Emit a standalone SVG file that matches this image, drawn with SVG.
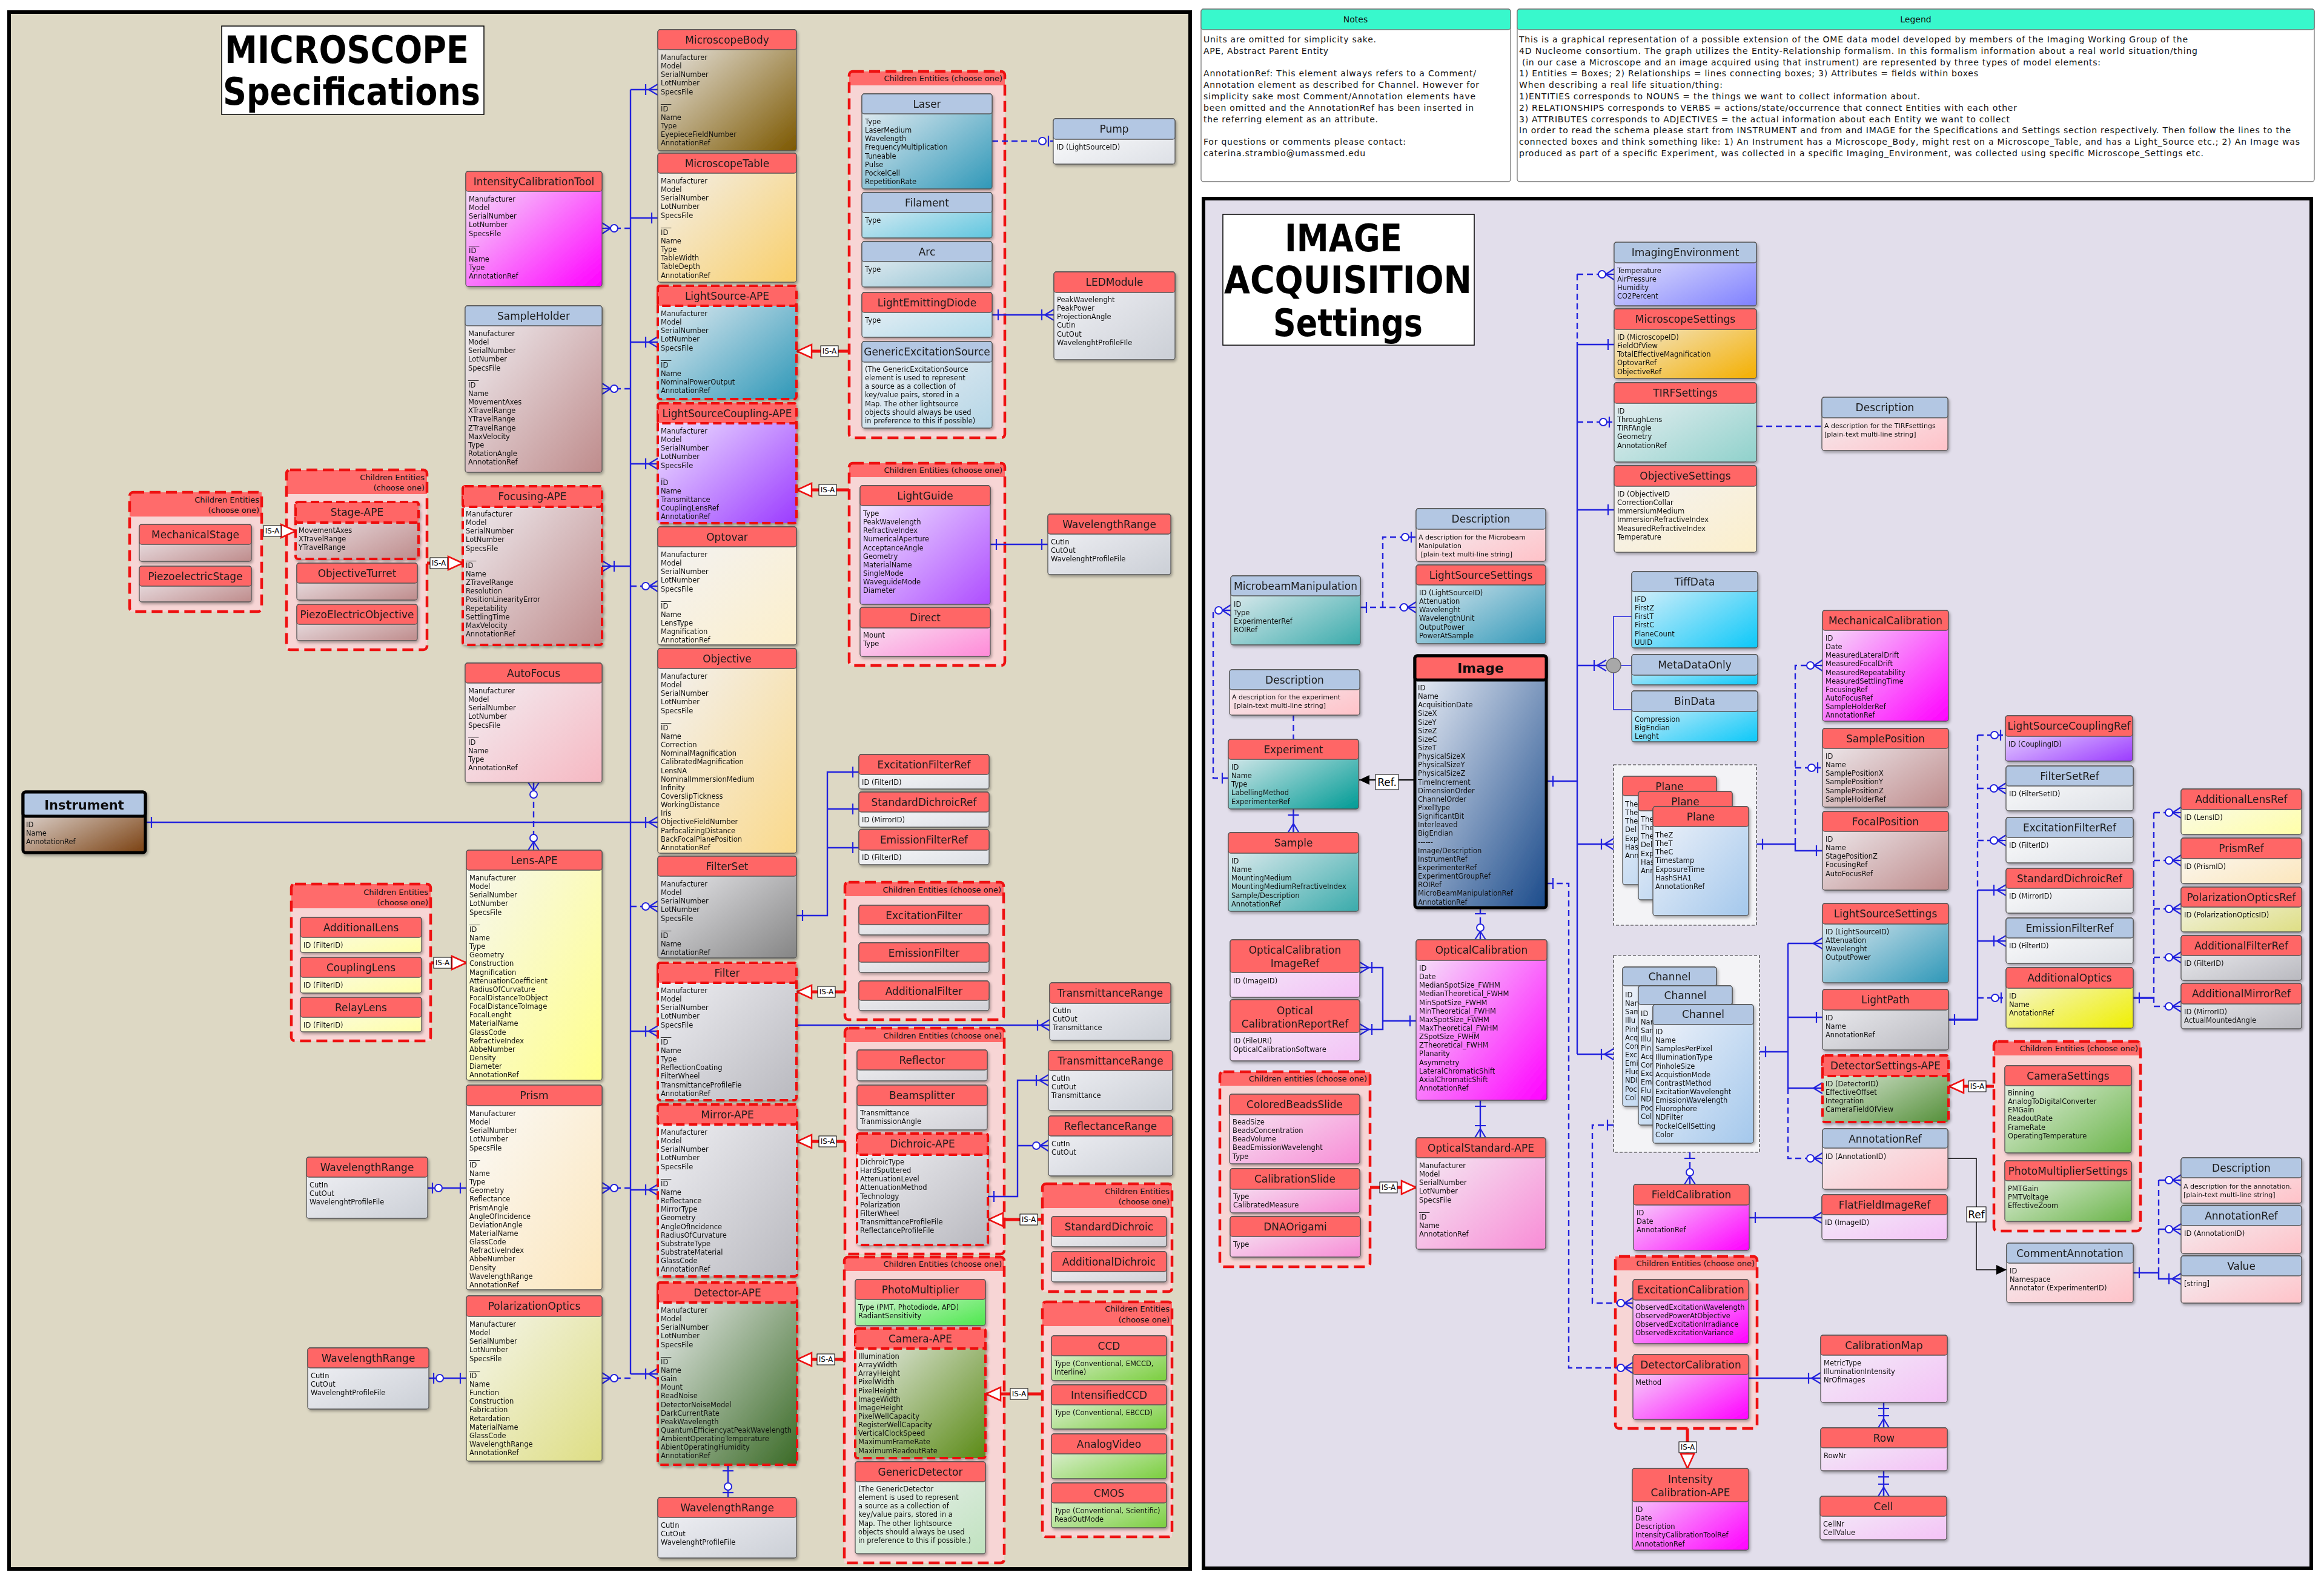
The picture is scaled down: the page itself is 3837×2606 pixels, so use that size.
<svg xmlns="http://www.w3.org/2000/svg" width="3837" height="2606" viewBox="0 0 3837 2606">
<defs>
<style>
.bd{stroke:#555;stroke-width:1.3;rx:4px}
.hr{fill:#FF6666;stroke:#555;stroke-width:1.3;rx:4px}
.hb{fill:#B3C7E3;stroke:#555;stroke-width:1.3;rx:4px}
.ap{stroke:#EE1111;stroke-width:4;stroke-dasharray:14 7}
.tk{stroke:#000;stroke-width:5}
.t{font:17px "DejaVu Sans",sans-serif;text-anchor:middle;fill:#1a1a1a}
.tb{font:bold 21px "DejaVu Sans",sans-serif;text-anchor:middle;fill:#111}
.a{font:11.5px "DejaVu Sans",sans-serif;fill:#111}
.s{font:11px "DejaVu Sans",sans-serif;fill:#111}
.gf{fill:#F7D5D5}
.band{fill:#FF6B6B}
.gb{fill:none;stroke:#EE1111;stroke-width:4.5;stroke-dasharray:18 9;rx:6px}
.gl{font:13px "DejaVu Sans",sans-serif;text-anchor:end;fill:#111}
.dg{fill:#F3F3F6;stroke:#333;stroke-width:1.2;stroke-dasharray:5 3}
.n{filter:url(#sh)}
.c{fill:none;stroke:#2222DD;stroke-width:2.4}
.d{stroke-dasharray:10 6}
.r{fill:none;stroke:#EE1111;stroke-width:5}
.k{fill:none;stroke:#000;stroke-width:1.4}
.lb{fill:#fff;stroke:#000;stroke-width:1}
.lt{font:12px "DejaVu Sans",sans-serif;text-anchor:middle;fill:#000}
.nt{font:14px "DejaVu Sans",sans-serif;fill:#111}
.big{font:bold 62px "DejaVu Sans Condensed","DejaVu Sans",sans-serif;fill:#000}
</style>
<filter id="sh" x="-10%" y="-10%" width="125%" height="125%"><feDropShadow dx="2" dy="3" stdDeviation="2" flood-color="#000" flood-opacity="0.3"/></filter>
<linearGradient id="gBrown" x2="1" y2="1"><stop offset="0" stop-color="#F2F2F6"/><stop offset="1" stop-color="#7C5800"/></linearGradient>
<linearGradient id="gOrange" x2="1" y2="1"><stop offset="0" stop-color="#F2F2F6"/><stop offset="1" stop-color="#F9CF6A"/></linearGradient>
<linearGradient id="gTeal" x2="1" y2="1"><stop offset="0" stop-color="#F2F2F6"/><stop offset="1" stop-color="#2F98B8"/></linearGradient>
<linearGradient id="gPurple" x2="1" y2="1"><stop offset="0" stop-color="#F6F2FF"/><stop offset="1" stop-color="#9B3BFF"/></linearGradient>
<linearGradient id="gCream" x2="1" y2="1"><stop offset="0" stop-color="#F2F2F6"/><stop offset="1" stop-color="#FCEFCB"/></linearGradient>
<linearGradient id="gObj" x2="1" y2="1"><stop offset="0" stop-color="#F2F2F6"/><stop offset="1" stop-color="#FAD98B"/></linearGradient>
<linearGradient id="gGray" x2="1" y2="1"><stop offset="0" stop-color="#F2F2F6"/><stop offset="1" stop-color="#858585"/></linearGradient>
<linearGradient id="gLGray" x2="1" y2="1"><stop offset="0" stop-color="#F2F2F6"/><stop offset="1" stop-color="#B9B9BF"/></linearGradient>
<linearGradient id="gGreen" x2="1" y2="1"><stop offset="0" stop-color="#F2F2F6"/><stop offset="1" stop-color="#3B6B27"/></linearGradient>
<linearGradient id="gWR" x2="1" y2="1"><stop offset="0" stop-color="#F4F4F8"/><stop offset="1" stop-color="#CBCFD6"/></linearGradient>
<linearGradient id="gMag" x2="1" y2="1"><stop offset="0" stop-color="#F4F0F8"/><stop offset="1" stop-color="#FF00FF"/></linearGradient>
<linearGradient id="gRosy" x2="1" y2="1"><stop offset="0" stop-color="#F2F2F6"/><stop offset="1" stop-color="#BF8C8C"/></linearGradient>
<linearGradient id="gPink" x2="1" y2="1"><stop offset="0" stop-color="#F2F2F6"/><stop offset="1" stop-color="#F6B8C2"/></linearGradient>
<linearGradient id="gYellow" x2="1" y2="1"><stop offset="0" stop-color="#F6F6F2"/><stop offset="1" stop-color="#FFFF8C"/></linearGradient>
<linearGradient id="gYelL" x2="1" y2="1"><stop offset="0" stop-color="#F8F8F4"/><stop offset="1" stop-color="#FFFFA8"/></linearGradient>
<linearGradient id="gPrism" x2="1" y2="1"><stop offset="0" stop-color="#FAFAFA"/><stop offset="1" stop-color="#FCE6BC"/></linearGradient>
<linearGradient id="gPol" x2="1" y2="1"><stop offset="0" stop-color="#F6F6F2"/><stop offset="1" stop-color="#DEDE84"/></linearGradient>
<linearGradient id="gCyan" x2="1" y2="1"><stop offset="0" stop-color="#F2F2F6"/><stop offset="1" stop-color="#5FC6DF"/></linearGradient>
<linearGradient id="gArc" x2="1" y2="1"><stop offset="0" stop-color="#F2F2F6"/><stop offset="1" stop-color="#8FC3D3"/></linearGradient>
<linearGradient id="gLED" x2="1" y2="1"><stop offset="0" stop-color="#F2F2F6"/><stop offset="1" stop-color="#B0DBEA"/></linearGradient>
<linearGradient id="gGES" x2="1" y2="1"><stop offset="0" stop-color="#F2F2F6"/><stop offset="1" stop-color="#B5D6E6"/></linearGradient>
<linearGradient id="gPurple2" x2="1" y2="1"><stop offset="0" stop-color="#F6F2FF"/><stop offset="1" stop-color="#AE4DFF"/></linearGradient>
<linearGradient id="gPinkD" x2="1" y2="1"><stop offset="0" stop-color="#F6F2F6"/><stop offset="1" stop-color="#FF8AD8"/></linearGradient>
<linearGradient id="gW" x2="1" y2="1"><stop offset="0" stop-color="#FFFFFF"/><stop offset="1" stop-color="#DDE0E6"/></linearGradient>
<linearGradient id="gLG2" x2="1" y2="1"><stop offset="0" stop-color="#F6F6F8"/><stop offset="1" stop-color="#D0D0D6"/></linearGradient>
<linearGradient id="gPM" x2="1" y2="1"><stop offset="0" stop-color="#F2F6F2"/><stop offset="1" stop-color="#4DE84D"/></linearGradient>
<linearGradient id="gCam" x2="1" y2="1"><stop offset="0" stop-color="#F2F2F6"/><stop offset="1" stop-color="#5B8B16"/></linearGradient>
<linearGradient id="gGD" x2="1" y2="1"><stop offset="0" stop-color="#F2F2F6"/><stop offset="1" stop-color="#C0E2BF"/></linearGradient>
<linearGradient id="gCCD" x2="1" y2="1"><stop offset="0" stop-color="#F2F6F2"/><stop offset="1" stop-color="#7ACE3E"/></linearGradient>
<linearGradient id="gPeri" x2="1" y2="1"><stop offset="0" stop-color="#F2F2FA"/><stop offset="1" stop-color="#7F80FF"/></linearGradient>
<linearGradient id="gMS" x2="1" y2="1"><stop offset="0" stop-color="#F2F2F6"/><stop offset="1" stop-color="#F4AF00"/></linearGradient>
<linearGradient id="gTirf" x2="1" y2="1"><stop offset="0" stop-color="#F2F2F6"/><stop offset="1" stop-color="#8FD1CB"/></linearGradient>
<linearGradient id="gDesc" x2="1" y2="1"><stop offset="0" stop-color="#F2F2F6"/><stop offset="1" stop-color="#FFC2C8"/></linearGradient>
<linearGradient id="gTealD" x2="1" y2="1"><stop offset="0" stop-color="#F2F2F6"/><stop offset="1" stop-color="#009B95"/></linearGradient>
<linearGradient id="gTealM" x2="1" y2="1"><stop offset="0" stop-color="#F2F2F6"/><stop offset="1" stop-color="#3AABAB"/></linearGradient>
<linearGradient id="gImg" x2="1" y2="1"><stop offset="0" stop-color="#F2F4FA"/><stop offset="1" stop-color="#1B4B8B"/></linearGradient>
<linearGradient id="gCyanB" x2="1" y2="1"><stop offset="0" stop-color="#F2F4FA"/><stop offset="1" stop-color="#0CC8F8"/></linearGradient>
<linearGradient id="gPlane" x2="1" y2="1"><stop offset="0" stop-color="#F2F4FA"/><stop offset="1" stop-color="#A4C8EC"/></linearGradient>
<linearGradient id="gLil" x2="1" y2="1"><stop offset="0" stop-color="#F2F2F8"/><stop offset="1" stop-color="#F4C2F6"/></linearGradient>
<linearGradient id="gPinkM" x2="1" y2="1"><stop offset="0" stop-color="#F4F2F6"/><stop offset="1" stop-color="#F88CD6"/></linearGradient>
<linearGradient id="gYel2" x2="1" y2="1"><stop offset="0" stop-color="#F6F6F2"/><stop offset="1" stop-color="#EFEF00"/></linearGradient>
<linearGradient id="gCS" x2="1" y2="1"><stop offset="0" stop-color="#F2F6F2"/><stop offset="1" stop-color="#6BB54A"/></linearGradient>
<linearGradient id="gDS" x2="1" y2="1"><stop offset="0" stop-color="#F2F6F2"/><stop offset="1" stop-color="#55903A"/></linearGradient>
<linearGradient id="gInst" x2="1" y2="1"><stop offset="0" stop-color="#F2F2F6"/><stop offset="1" stop-color="#7A4010"/></linearGradient>
<marker id="m1" markerUnits="userSpaceOnUse" orient="auto-start-reverse" overflow="visible" markerWidth="1" markerHeight="1"><path d="M-10,-9V9" stroke="#2222DD" stroke-width="2.2" fill="none"/></marker>
<marker id="mcf" markerUnits="userSpaceOnUse" orient="auto-start-reverse" overflow="visible" markerWidth="1" markerHeight="1"><path d="M-15,0L0,-9M-15,0L0,9M-15,0H0M-20,-9V9" stroke="#2222DD" stroke-width="2.2" fill="none"/></marker>
<marker id="mcfo" markerUnits="userSpaceOnUse" orient="auto-start-reverse" overflow="visible" markerWidth="1" markerHeight="1"><path d="M-15,0L0,-9M-15,0L0,9M-15,0H0" stroke="#2222DD" stroke-width="2.2" fill="none"/></marker>
<marker id="mcfz" markerUnits="userSpaceOnUse" orient="auto-start-reverse" overflow="visible" markerWidth="1" markerHeight="1"><path d="M-14,0L0,-9M-14,0L0,9M-14,0H0" stroke="#2222DD" stroke-width="2.2" fill="none"/><circle cx="-20" cy="0" r="6" fill="#fff" stroke="#2222DD" stroke-width="2"/></marker>
<marker id="mz1" markerUnits="userSpaceOnUse" orient="auto-start-reverse" overflow="visible" markerWidth="1" markerHeight="1"><path d="M-8,-9V9" stroke="#2222DD" stroke-width="2.2" fill="none"/><circle cx="-18" cy="0" r="6" fill="#fff" stroke="#2222DD" stroke-width="2"/></marker>
<marker id="misa" markerUnits="userSpaceOnUse" orient="auto-start-reverse" overflow="visible" markerWidth="1" markerHeight="1"><path d="M0,0L-24,-11L-24,11Z" fill="#fff" stroke="#EE1111" stroke-width="2.5"/></marker>
<marker id="mref" markerUnits="userSpaceOnUse" orient="auto-start-reverse" overflow="visible" markerWidth="1" markerHeight="1"><path d="M0,0L-17,-8L-17,8Z" fill="#000"/></marker>
</defs>
<rect width="3837" height="2606" fill="#fff"/>
<g id="panels">
<rect x="15" y="20" width="1950" height="2571" fill="#DDD8C4" stroke="#000" stroke-width="6"/>
<rect x="1987" y="328" width="1829" height="2262" fill="#E2DEEB" stroke="#000" stroke-width="6"/>
<rect x="366" y="43" width="433" height="146" fill="#fff" stroke="#000" stroke-width="1.5"/>
<text class="big" x="371" y="104" textLength="403" lengthAdjust="spacingAndGlyphs">MICROSCOPE</text>
<text class="big" x="368" y="173" textLength="425" lengthAdjust="spacingAndGlyphs">Specifications</text>
<rect x="2019" y="354" width="415" height="216" fill="#fff" stroke="#000" stroke-width="1.5"/>
<text class="big" x="2121" y="415" textLength="194" lengthAdjust="spacingAndGlyphs">IMAGE</text>
<text class="big" x="2021" y="484" textLength="409" lengthAdjust="spacingAndGlyphs">ACQUISITION</text>
<text class="big" x="2102" y="555" textLength="247" lengthAdjust="spacingAndGlyphs">Settings</text>
</g>
<g id="notes">
<rect x="1983" y="15" width="511" height="285" rx="4" fill="#fff" stroke="#777" stroke-width="1.3"/>
<rect x="1983" y="15" width="511" height="34" rx="4" fill="#38F8CC" stroke="#777" stroke-width="1.3"/>
<text class="nt" x="2238" y="37" text-anchor="middle">Notes</text>
<text class="nt" x="1987" y="70" textLength="285">Units are omitted for simplicity sake.</text>
<text class="nt" x="1987" y="89" textLength="206">APE, Abstract Parent Entity</text>
<text class="nt" x="1987" y="126" textLength="450">AnnotationRef: This element always refers to a Comment/</text>
<text class="nt" x="1987" y="145" textLength="455">Annotation element as described for Channel. However for</text>
<text class="nt" x="1987" y="164" textLength="449">simplicity sake most Comment/Annotation elements have</text>
<text class="nt" x="1987" y="183" textLength="446">been omitted and the AnnotationRef has been inserted in</text>
<text class="nt" x="1987" y="202" textLength="288">the referring element as an attribute.</text>
<text class="nt" x="1987" y="239" textLength="334">For questions or comments please contact:</text>
<text class="nt" x="1987" y="258" textLength="267">caterina.strambio@umassmed.edu</text>
</g>
<g id="legend">
<rect x="2505" y="15" width="1316" height="285" rx="4" fill="#fff" stroke="#777" stroke-width="1.3"/>
<rect x="2505" y="15" width="1316" height="34" rx="4" fill="#38F8CC" stroke="#777" stroke-width="1.3"/>
<text class="nt" x="3163" y="37" text-anchor="middle">Legend</text>
<text class="nt" x="2508" y="70" textLength="1104">This is a graphical representation of a possible extension of the OME data model developed by members of the Imaging Working Group of the</text>
<text class="nt" x="2508" y="89" textLength="1120">4D Nucleome consortium. The graph utilizes the Entity-Relationship formalism. In this formalism information about a real world situation/thing</text>
<text class="nt" x="2513" y="108" textLength="955">(in our case a Microscope and an image acquired using that instrument) are represented by three types of model elements:</text>
<text class="nt" x="2508" y="126" textLength="758">1) Entities = Boxes; 2) Relationships = lines connecting boxes; 3) Attributes = fields within boxes</text>
<text class="nt" x="2508" y="145" textLength="336">When describing  a real life situation/thing:</text>
<text class="nt" x="2508" y="164" textLength="662">1)ENTITIES corresponds to NOUNS = the things we want to collect information about.</text>
<text class="nt" x="2508" y="183" textLength="822">2) RELATIONSHIPS corresponds to VERBS = actions/state/occurrence that connect Entities with each other</text>
<text class="nt" x="2508" y="202" textLength="810">3) ATTRIBUTES corresponds to ADJECTIVES = the actual information about each Entity we want to collect</text>
<text class="nt" x="2508" y="220" textLength="1274">In order to read the schema please start from INSTRUMENT and from and IMAGE for the Specifications and Settings section respectively. Then follow the lines to the</text>
<text class="nt" x="2508" y="239" textLength="1289">connected boxes and think something like: 1) An Instrument has a Microscope_Body, might rest on a Microscope_Table, and has a Light_Source etc.; 2) An Image was</text>
<text class="nt" x="2508" y="258" textLength="1130">produced as part of a specific Experiment, was collected in a specific Imaging_Environment, was collected using specific Microscope_Settings etc.</text>
</g>
<g id="containers">
<g id="grp-mechstage"><rect class="gf" x="214" y="813" width="218" height="197"/><rect class="band" x="214" y="813" width="218" height="40"/><rect class="gb" x="214" y="813" width="218" height="197"/><text class="gl" x="428" y="830">Children Entities</text><text class="gl" x="428" y="847">(choose one)</text></g>
<g id="grp-stage"><rect class="gf" x="473" y="776" width="232" height="297"/><rect class="band" x="473" y="776" width="232" height="40"/><rect class="gb" x="473" y="776" width="232" height="297"/><text class="gl" x="701" y="793">Children Entities</text><text class="gl" x="701" y="810">(choose one)</text></g>
<g id="grp-lens"><rect class="gf" x="481" y="1460" width="230" height="259"/><rect class="band" x="481" y="1460" width="230" height="40"/><rect class="gb" x="481" y="1460" width="230" height="259"/><text class="gl" x="707" y="1478">Children Entities</text><text class="gl" x="707" y="1495">(choose one)</text></g>
<g id="grp-lightsource"><rect class="gf" x="1402" y="118" width="257" height="605"/><rect class="band" x="1402" y="118" width="257" height="23"/><rect class="gb" x="1402" y="118" width="257" height="605"/><text class="gl" x="1655" y="134">Children Entities (choose one)</text></g>
<g id="grp-lightguide"><rect class="gf" x="1402" y="765" width="257" height="334"/><rect class="band" x="1402" y="765" width="257" height="23"/><rect class="gb" x="1402" y="765" width="257" height="334"/><text class="gl" x="1655" y="781">Children Entities (choose one)</text></g>
<g id="grp-filter"><rect class="gf" x="1395" y="1457" width="262" height="227"/><rect class="band" x="1395" y="1457" width="262" height="23"/><rect class="gb" x="1395" y="1457" width="262" height="227"/><text class="gl" x="1653" y="1474">Children Entities (choose one)</text></g>
<g id="grp-mirror"><rect class="gf" x="1395" y="1698" width="263" height="373"/><rect class="band" x="1395" y="1698" width="263" height="23"/><rect class="gb" x="1395" y="1698" width="263" height="373"/><text class="gl" x="1654" y="1715">Children Entities (choose one)</text></g>
<g id="grp-dichroic"><rect class="gf" x="1721" y="1955" width="214" height="178"/><rect class="band" x="1721" y="1955" width="214" height="40"/><rect class="gb" x="1721" y="1955" width="214" height="178"/><text class="gl" x="1931" y="1972">Children Entities</text><text class="gl" x="1931" y="1989">(choose one)</text></g>
<g id="grp-detector"><rect class="gf" x="1394" y="2076" width="264" height="505"/><rect class="band" x="1394" y="2076" width="264" height="23"/><rect class="gb" x="1394" y="2076" width="264" height="505"/><text class="gl" x="1654" y="2092">Children Entities (choose one)</text></g>
<g id="grp-camera"><rect class="gf" x="1721" y="2150" width="214" height="388"/><rect class="band" x="1721" y="2150" width="214" height="40"/><rect class="gb" x="1721" y="2150" width="214" height="388"/><text class="gl" x="1931" y="2166">Children Entities</text><text class="gl" x="1931" y="2184">(choose one)</text></g>
<g id="grp-calib"><rect class="gf" x="2014" y="1770" width="248" height="322"/><rect class="band" x="2014" y="1770" width="248" height="23"/><rect class="gb" x="2014" y="1770" width="248" height="322"/><text class="gl" x="2257" y="1786">Children entities (choose one)</text></g>
<g id="grp-intcal"><rect class="gf" x="2667" y="2075" width="234" height="284"/><rect class="band" x="2667" y="2075" width="234" height="23"/><rect class="gb" x="2667" y="2075" width="234" height="284"/><text class="gl" x="2897" y="2091">Children Entities (choose one)</text></g>
<g id="grp-camsettings"><rect class="gf" x="3292" y="1720" width="242" height="313"/><rect class="band" x="3292" y="1720" width="242" height="23"/><rect class="gb" x="3292" y="1720" width="242" height="313"/><text class="gl" x="3530" y="1736">Children Entities (choose one)</text></g>
<g id="grp-planes"><rect class="dg" x="2664" y="1263" width="236" height="265"/></g>
<g id="grp-channels"><rect class="dg" x="2664" y="1578" width="241" height="325"/></g>
</g>
<g id="connectors">
<path class="c" d="M1041,148V2269"/>
<path class="c" d="M240,1358H1086" marker-start="url(#m1)" marker-end="url(#mcf)"/>
<path class="c" d="M1041,148H1086" marker-end="url(#mcf)"/>
<path class="c" d="M1041,360H1086" marker-end="url(#m1)"/>
<path class="c" d="M1041,565H1086" marker-end="url(#mcf)"/>
<path class="c" d="M1041,766H1086" marker-end="url(#mcf)"/>
<path class="c d" d="M1041,968H1086" marker-end="url(#mcfz)"/>
<path class="c d" d="M1041,1497H1086" marker-end="url(#mcfz)"/>
<path class="c" d="M1041,1703H1086" marker-end="url(#mcf)"/>
<path class="c" d="M1041,1965H1086" marker-end="url(#mcf)"/>
<path class="c" d="M1041,2269H1086" marker-end="url(#mcf)"/>
<path class="c d" d="M1041,377H994" marker-end="url(#mcfz)"/>
<path class="c d" d="M1041,642H994" marker-end="url(#mcfz)"/>
<path class="c" d="M1041,935H994" marker-end="url(#mcf)"/>
<path class="c d" d="M1041,1962H994" marker-end="url(#mcfz)"/>
<path class="c d" d="M1041,2276H994" marker-end="url(#mcfz)"/>
<path class="c d" d="M881,1292V1404" marker-start="url(#mcfz)" marker-end="url(#mcfz)"/>
<path class="c d" d="M1638,233H1739" marker-end="url(#mz1)"/>
<path class="c" d="M1638,520H1740" marker-start="url(#m1)" marker-end="url(#mcf)"/>
<path class="c" d="M1635,899H1730" marker-start="url(#m1)" marker-end="url(#m1)"/>
<path class="c" d="M1315,1512H1366V1275H1418" marker-start="url(#m1)" marker-end="url(#m1)"/>
<path class="c" d="M1366,1336H1418" marker-end="url(#m1)"/>
<path class="c" d="M1366,1400H1418" marker-end="url(#m1)"/>
<path class="c" d="M1315,1693H1733" marker-end="url(#mcf)"/>
<path class="c" d="M1631,1976H1680V1784H1731" marker-start="url(#m1)" marker-end="url(#mcf)"/>
<path class="c" d="M1680,1892H1731" marker-end="url(#mcfz)"/>
<path class="c" d="M1202,2419V2473" marker-start="url(#m1)" marker-end="url(#mz1)"/>
<path class="c" d="M706,1962H770" marker-start="url(#mz1)" marker-end="url(#m1)"/>
<path class="c" d="M708,2276H770" marker-start="url(#mz1)" marker-end="url(#m1)"/>
<path class="r" d="M1402,580H1316" marker-end="url(#misa)"/>
<path class="r" d="M1402,809H1316" marker-end="url(#misa)"/>
<path class="r" d="M705,930H764" marker-end="url(#misa)"/>
<path class="r" d="M432,877H488" marker-end="url(#misa)"/>
<path class="r" d="M711,1590H770" marker-end="url(#misa)"/>
<path class="r" d="M1395,1638H1316" marker-end="url(#misa)"/>
<path class="r" d="M1395,1885H1316" marker-end="url(#misa)"/>
<path class="r" d="M1721,2014H1632" marker-end="url(#misa)"/>
<path class="r" d="M1394,2245H1316" marker-end="url(#misa)"/>
<path class="r" d="M1721,2302H1628" marker-end="url(#misa)"/>
<path class="r" d="M2262,1961H2338" marker-end="url(#misa)"/>
<path class="r" d="M3292,1794H3218" marker-end="url(#misa)"/>
<path class="r" d="M2786,2359V2425" marker-end="url(#misa)"/>
<g id="isa-labels">
<rect class="lb" x="1355" y="571" width="29" height="18"/><text class="lt" x="1369.5" y="584">IS-A</text>
<rect class="lb" x="1352" y="800" width="29" height="18"/><text class="lt" x="1366.5" y="813">IS-A</text>
<rect class="lb" x="710" y="921" width="29" height="18"/><text class="lt" x="724.5" y="934">IS-A</text>
<rect class="lb" x="435" y="868" width="29" height="18"/><text class="lt" x="449.5" y="881">IS-A</text>
<rect class="lb" x="716" y="1581" width="29" height="18"/><text class="lt" x="730.5" y="1594">IS-A</text>
<rect class="lb" x="1350" y="1629" width="29" height="18"/><text class="lt" x="1364.5" y="1642">IS-A</text>
<rect class="lb" x="1352" y="1876" width="29" height="18"/><text class="lt" x="1366.5" y="1889">IS-A</text>
<rect class="lb" x="1684" y="2005" width="29" height="18"/><text class="lt" x="1698.5" y="2018">IS-A</text>
<rect class="lb" x="1349" y="2236" width="29" height="18"/><text class="lt" x="1363.5" y="2249">IS-A</text>
<rect class="lb" x="1668" y="2293" width="29" height="18"/><text class="lt" x="1682.5" y="2306">IS-A</text>
<rect class="lb" x="2278" y="1952" width="29" height="18"/><text class="lt" x="2292.5" y="1965">IS-A</text>
<rect class="lb" x="3250" y="1785" width="29" height="18"/><text class="lt" x="3264.5" y="1798">IS-A</text>
<rect class="lb" x="2772" y="2381" width="29" height="18"/><text class="lt" x="2786.5" y="2394">IS-A</text>
</g>
<path class="c d" d="M2604,453V569"/>
<path class="c" d="M2604,569V1741"/>
<path class="c d" d="M2604,453H2665" marker-end="url(#mcfz)"/>
<path class="c" d="M2604,569H2665" marker-end="url(#m1)"/>
<path class="c d" d="M2604,697H2665" marker-end="url(#mz1)"/>
<path class="c" d="M2604,842H2665" marker-end="url(#m1)"/>
<path class="c d" d="M2900,704H3008"/>
<path class="c" d="M2554,1290H2604" marker-start="url(#m1)"/>
<path class="c" d="M2604,1099H2652" marker-end="url(#mcf)"/>
<path class="c" style="stroke-width:1.6" d="M2694,1018H2664V1172H2694M2676,1099H2694"/>
<circle cx="2664" cy="1099" r="12" fill="#A8A8A8" stroke="#666" stroke-width="1.5"/>
<path class="c" d="M2604,1394H2664" marker-end="url(#mcf)"/>
<path class="c" d="M2604,1741H2664" marker-end="url(#mcf)"/>
<path class="c" d="M2900,1394H2964V1405H3009" marker-start="url(#m1)" marker-end="url(#m1)"/>
<path class="c d" d="M2964,1394V1099H3009" marker-end="url(#mcfz)"/>
<path class="c d" d="M2964,1268H3009" marker-end="url(#mz1)"/>
<path class="c" d="M2905,1737H2952" marker-start="url(#m1)"/>
<path class="c" d="M2952,1558V1797"/>
<path class="c" d="M2952,1558H3009" marker-end="url(#mcfo)"/>
<path class="c" d="M2952,1680H3009" marker-end="url(#m1)"/>
<path class="c" d="M2952,1797H3009" marker-end="url(#mcfo)"/>
<path class="c d" d="M2952,1797V1913H3009" marker-end="url(#mcfz)"/>
<path class="c" style="stroke-width:3.5" d="M3217,1684H3265" marker-start="url(#m1)"/>
<path class="c d" d="M3265,1214V1470"/>
<path class="c" d="M3265,1470V1684"/>
<path class="c d" d="M3265,1214H3311" marker-end="url(#mz1)"/>
<path class="c d" d="M3265,1302H3312" marker-end="url(#mcfz)"/>
<path class="c d" d="M3265,1388H3312" marker-end="url(#mcfz)"/>
<path class="c" d="M3265,1470H3312" marker-end="url(#mcf)"/>
<path class="c" d="M3265,1554H3312" marker-end="url(#mcf)"/>
<path class="c d" d="M3265,1648H3312" marker-end="url(#mz1)"/>
<path class="c" style="stroke-width:3.5" d="M3522,1648H3556" marker-start="url(#m1)"/>
<path class="c d" d="M3556,1342V1662"/>
<path class="c d" d="M3556,1342H3601" marker-end="url(#mcfz)"/>
<path class="c d" d="M3556,1421H3601" marker-end="url(#mcfz)"/>
<path class="c d" d="M3556,1501H3601" marker-end="url(#mcfz)"/>
<path class="c d" d="M3556,1581H3601" marker-end="url(#mcfz)"/>
<path class="c d" d="M3556,1662H3601" marker-end="url(#mcfz)"/>
<path class="c d" d="M2246,1003H2338" marker-start="url(#m1)" marker-end="url(#mcfz)"/>
<path class="c d" d="M2283,1003V887H2338" marker-end="url(#mz1)"/>
<path class="c d" d="M2032,1008H2003V1285H2028" marker-start="url(#mcfz)" marker-end="url(#m1)"/>
<path class="c d" d="M2135.5,1181V1221"/>
<path class="c" d="M2135.5,1336V1375" marker-start="url(#m1)" marker-end="url(#mcfo)"/>
<path class="k" style="stroke-width:2" d="M2336,1288H2244" marker-end="url(#mref)"/>
<rect class="lb" x="2271" y="1279" width="38" height="25"/><text x="2290" y="1298" style="font:17px 'DejaVu Sans',sans-serif;text-anchor:middle">Ref.</text>
<path class="c d" d="M2444,1499V1552" marker-start="url(#m1)" marker-end="url(#mcfz)"/>
<path class="c" d="M2245,1598H2283V1700H2245" marker-start="url(#mcf)" marker-end="url(#mcf)"/>
<path class="c" d="M2283,1686H2338" marker-end="url(#m1)"/>
<path class="c" d="M2444,1817V1879" marker-start="url(#m1)" marker-end="url(#mcf)"/>
<path class="c d" d="M2554,1459H2590V2259H2696" marker-start="url(#m1)" marker-end="url(#mcfz)"/>
<path class="c d" d="M2664,1858H2629V2152H2696" marker-start="url(#m1)" marker-end="url(#mcfz)"/>
<path class="c d" d="M2790,1903V1956" marker-start="url(#m1)" marker-end="url(#mcfz)"/>
<path class="c" d="M2888,2011H3008" marker-start="url(#m1)" marker-end="url(#mcfo)"/>
<path class="c" d="M2887,2276H3006" marker-end="url(#mcf)"/>
<path class="c" d="M3110,2316V2358" marker-start="url(#m1)" marker-end="url(#mcf)"/>
<path class="c" d="M3110,2429V2471" marker-start="url(#m1)" marker-end="url(#mcf)"/>
<path class="c" d="M3522,2102H3564" marker-start="url(#m1)"/>
<path class="c d" d="M3564,1949V2102"/>
<path class="c d" d="M3564,1949H3601" marker-end="url(#mcfz)"/>
<path class="c d" d="M3564,2030H3601" marker-end="url(#mcfz)"/>
<path class="c" d="M3564,2102V2112H3601" marker-end="url(#mcf)"/>
<path class="k" d="M3216,1913H3263V2097H3313" marker-end="url(#mref)"/>
<rect class="lb" x="3247" y="1993" width="32" height="25"/><text x="3263" y="2012" style="font:17px 'DejaVu Sans',sans-serif;text-anchor:middle">Ref</text>
</g>
<g id="nodes">
<g id="Instrument" class="n"><rect class="bd tk" x="38" y="1308" width="202" height="100" fill="url(#gInst)"/><rect class="hb tk" x="38" y="1308" width="202" height="40"/><text class="tb" x="139" y="1337">Instrument</text><text class="a" y="1366"><tspan x="43">ID</tspan><tspan x="43" dy="14.14">Name</tspan><tspan x="43" dy="14.14">AnnotationRef</tspan></text></g>
<g id="MicroscopeBody" class="n"><rect class="bd" x="1086" y="49" width="229" height="200" fill="url(#gBrown)"/><rect class="hr" x="1086" y="49" width="229" height="33"/><text class="t" x="1200.5" y="72">MicroscopeBody</text><text class="a" y="99"><tspan x="1091">Manufacturer</tspan><tspan x="1091" dy="14.14">Model</tspan><tspan x="1091" dy="14.14">SerialNumber</tspan><tspan x="1091" dy="14.14">LotNumber</tspan><tspan x="1091" dy="14.14">SpecsFile</tspan><tspan x="1091" dy="14.14">___</tspan><tspan x="1091" dy="14.14">ID</tspan><tspan x="1091" dy="14.14">Name</tspan><tspan x="1091" dy="14.14">Type</tspan><tspan x="1091" dy="14.14">EyepieceFieldNumber</tspan><tspan x="1091" dy="14.14">AnnotationRef</tspan></text></g>
<g id="MicroscopeTable" class="n"><rect class="bd" x="1086" y="253" width="229" height="213" fill="url(#gOrange)"/><rect class="hr" x="1086" y="253" width="229" height="33"/><text class="t" x="1200.5" y="276">MicroscopeTable</text><text class="a" y="303"><tspan x="1091">Manufacturer</tspan><tspan x="1091" dy="14.14">Model</tspan><tspan x="1091" dy="14.14">SerialNumber</tspan><tspan x="1091" dy="14.14">LotNumber</tspan><tspan x="1091" dy="14.14">SpecsFile</tspan><tspan x="1091" dy="14.14">___</tspan><tspan x="1091" dy="14.14">ID</tspan><tspan x="1091" dy="14.14">Name</tspan><tspan x="1091" dy="14.14">Type</tspan><tspan x="1091" dy="14.14">TableWidth</tspan><tspan x="1091" dy="14.14">TableDepth</tspan><tspan x="1091" dy="14.14">AnnotationRef</tspan></text></g>
<g id="LightSource-APE" class="n"><rect class="bd ap" x="1086" y="472" width="229" height="187" fill="url(#gTeal)"/><rect class="hr ap" x="1086" y="472" width="229" height="33"/><text class="t" x="1200.5" y="495">LightSource-APE</text><text class="a" y="522"><tspan x="1091">Manufacturer</tspan><tspan x="1091" dy="14.14">Model</tspan><tspan x="1091" dy="14.14">SerialNumber</tspan><tspan x="1091" dy="14.14">LotNumber</tspan><tspan x="1091" dy="14.14">SpecsFile</tspan><tspan x="1091" dy="14.14">___</tspan><tspan x="1091" dy="14.14">ID</tspan><tspan x="1091" dy="14.14">Name</tspan><tspan x="1091" dy="14.14">NominalPowerOutput</tspan><tspan x="1091" dy="14.14">AnnotationRef</tspan></text></g>
<g id="LightSourceCoupling-APE" class="n"><rect class="bd ap" x="1086" y="666" width="229" height="198" fill="url(#gPurple)"/><rect class="hr ap" x="1086" y="666" width="229" height="33"/><text class="t" x="1200.5" y="689">LightSourceCoupling-APE</text><text class="a" y="716"><tspan x="1091">Manufacturer</tspan><tspan x="1091" dy="14.14">Model</tspan><tspan x="1091" dy="14.14">SerialNumber</tspan><tspan x="1091" dy="14.14">LotNumber</tspan><tspan x="1091" dy="14.14">SpecsFile</tspan><tspan x="1091" dy="14.14">_</tspan><tspan x="1091" dy="14.14">ID</tspan><tspan x="1091" dy="14.14">Name</tspan><tspan x="1091" dy="14.14">Transmittance</tspan><tspan x="1091" dy="14.14">CouplingLensRef</tspan><tspan x="1091" dy="14.14">AnnotationRef</tspan></text></g>
<g id="Optovar" class="n"><rect class="bd" x="1086" y="870" width="229" height="195" fill="url(#gCream)"/><rect class="hr" x="1086" y="870" width="229" height="33"/><text class="t" x="1200.5" y="893">Optovar</text><text class="a" y="920"><tspan x="1091">Manufacturer</tspan><tspan x="1091" dy="14.14">Model</tspan><tspan x="1091" dy="14.14">SerialNumber</tspan><tspan x="1091" dy="14.14">LotNumber</tspan><tspan x="1091" dy="14.14">SpecsFile</tspan><tspan x="1091" dy="14.14">___</tspan><tspan x="1091" dy="14.14">ID</tspan><tspan x="1091" dy="14.14">Name</tspan><tspan x="1091" dy="14.14">LensType</tspan><tspan x="1091" dy="14.14">Magnification</tspan><tspan x="1091" dy="14.14">AnnotationRef</tspan></text></g>
<g id="Objective" class="n"><rect class="bd" x="1086" y="1071" width="229" height="338" fill="url(#gObj)"/><rect class="hr" x="1086" y="1071" width="229" height="33"/><text class="t" x="1200.5" y="1094">Objective</text><text class="a" y="1121"><tspan x="1091">Manufacturer</tspan><tspan x="1091" dy="14.14">Model</tspan><tspan x="1091" dy="14.14">SerialNumber</tspan><tspan x="1091" dy="14.14">LotNumber</tspan><tspan x="1091" dy="14.14">SpecsFile</tspan><tspan x="1091" dy="14.14">___</tspan><tspan x="1091" dy="14.14">ID</tspan><tspan x="1091" dy="14.14">Name</tspan><tspan x="1091" dy="14.14">Correction</tspan><tspan x="1091" dy="14.14">NominalMagnification</tspan><tspan x="1091" dy="14.14">CalibratedMagnification</tspan><tspan x="1091" dy="14.14">LensNA</tspan><tspan x="1091" dy="14.14">NominalImmersionMedium</tspan><tspan x="1091" dy="14.14">Infinity</tspan><tspan x="1091" dy="14.14">CoverslipTickness</tspan><tspan x="1091" dy="14.14">WorkingDistance</tspan><tspan x="1091" dy="14.14">Iris</tspan><tspan x="1091" dy="14.14">ObjectiveFieldNumber</tspan><tspan x="1091" dy="14.14">ParfocalizingDistance</tspan><tspan x="1091" dy="14.14">BackFocalPlanePosition</tspan><tspan x="1091" dy="14.14">AnnotationRef</tspan></text></g>
<g id="FilterSet" class="n"><rect class="bd" x="1086" y="1414" width="229" height="168" fill="url(#gGray)"/><rect class="hr" x="1086" y="1414" width="229" height="33"/><text class="t" x="1200.5" y="1437">FilterSet</text><text class="a" y="1464"><tspan x="1091">Manufacturer</tspan><tspan x="1091" dy="14.14">Model</tspan><tspan x="1091" dy="14.14">SerialNumber</tspan><tspan x="1091" dy="14.14">LotNumber</tspan><tspan x="1091" dy="14.14">SpecsFile</tspan><tspan x="1091" dy="14.14">___</tspan><tspan x="1091" dy="14.14">ID</tspan><tspan x="1091" dy="14.14">Name</tspan><tspan x="1091" dy="14.14">AnnotationRef</tspan></text></g>
<g id="Filter" class="n"><rect class="bd ap" x="1086" y="1590" width="229" height="227" fill="url(#gLGray)"/><rect class="hr ap" x="1086" y="1590" width="229" height="33"/><text class="t" x="1200.5" y="1613">Filter</text><text class="a" y="1640"><tspan x="1091">Manufacturer</tspan><tspan x="1091" dy="14.14">Model</tspan><tspan x="1091" dy="14.14">SerialNumber</tspan><tspan x="1091" dy="14.14">LotNumber</tspan><tspan x="1091" dy="14.14">SpecsFile</tspan><tspan x="1091" dy="14.14">___</tspan><tspan x="1091" dy="14.14">ID</tspan><tspan x="1091" dy="14.14">Name</tspan><tspan x="1091" dy="14.14">Type</tspan><tspan x="1091" dy="14.14">ReflectionCoating</tspan><tspan x="1091" dy="14.14">FilterWheel</tspan><tspan x="1091" dy="14.14">TransmittanceProfileFie</tspan><tspan x="1091" dy="14.14">AnnotationRef</tspan></text></g>
<g id="Mirror-APE" class="n"><rect class="bd ap" x="1086" y="1824" width="230" height="284" fill="url(#gLGray)"/><rect class="hr ap" x="1086" y="1824" width="230" height="33"/><text class="t" x="1201" y="1847">Mirror-APE</text><text class="a" y="1874"><tspan x="1091">Manufacturer</tspan><tspan x="1091" dy="14.14">Model</tspan><tspan x="1091" dy="14.14">SerialNumber</tspan><tspan x="1091" dy="14.14">LotNumber</tspan><tspan x="1091" dy="14.14">SpecsFile</tspan><tspan x="1091" dy="14.14">___</tspan><tspan x="1091" dy="14.14">ID</tspan><tspan x="1091" dy="14.14">Name</tspan><tspan x="1091" dy="14.14">Reflectance</tspan><tspan x="1091" dy="14.14">MirrorType</tspan><tspan x="1091" dy="14.14">Geometry</tspan><tspan x="1091" dy="14.14">AngleOfIncidence</tspan><tspan x="1091" dy="14.14">RadiusOfCurvature</tspan><tspan x="1091" dy="14.14">SubstrateType</tspan><tspan x="1091" dy="14.14">SubstrateMaterial</tspan><tspan x="1091" dy="14.14">GlassCode</tspan><tspan x="1091" dy="14.14">AnnotationRef</tspan></text></g>
<g id="Detector-APE" class="n"><rect class="bd ap" x="1086" y="2118" width="230" height="301" fill="url(#gGreen)"/><rect class="hr ap" x="1086" y="2118" width="230" height="33"/><text class="t" x="1201" y="2141">Detector-APE</text><text class="a" y="2168"><tspan x="1091">Manufacturer</tspan><tspan x="1091" dy="14.14">Model</tspan><tspan x="1091" dy="14.14">SerialNumber</tspan><tspan x="1091" dy="14.14">LotNumber</tspan><tspan x="1091" dy="14.14">SpecsFile</tspan><tspan x="1091" dy="14.14">___</tspan><tspan x="1091" dy="14.14">ID</tspan><tspan x="1091" dy="14.14">Name</tspan><tspan x="1091" dy="14.14">Gain</tspan><tspan x="1091" dy="14.14">Mount</tspan><tspan x="1091" dy="14.14">ReadNoise</tspan><tspan x="1091" dy="14.14">DetectorNoiseModel</tspan><tspan x="1091" dy="14.14">DarkCurrentRate</tspan><tspan x="1091" dy="14.14">PeakWavelength</tspan><tspan x="1091" dy="14.14">QuantumEfficiencyatPeakWavelength</tspan><tspan x="1091" dy="14.14">AmbientOperatingTemperature</tspan><tspan x="1091" dy="14.14">AbientOperatingHumidity</tspan><tspan x="1091" dy="14.14">AnnotationRef</tspan></text></g>
<g id="WavelengthRange-det" class="n"><rect class="bd" x="1086" y="2473" width="229" height="100" fill="url(#gWR)"/><rect class="hr" x="1086" y="2473" width="229" height="33"/><text class="t" x="1200.5" y="2496">WavelengthRange</text><text class="a" y="2523"><tspan x="1091">CutIn</tspan><tspan x="1091" dy="14.14">CutOut</tspan><tspan x="1091" dy="14.14">WavelenghtProfileFile</tspan></text></g>
<g id="IntensityCalibrationTool" class="n"><rect class="bd" x="769" y="283" width="225" height="190" fill="url(#gMag)"/><rect class="hr" x="769" y="283" width="225" height="33"/><text class="t" x="881.5" y="306">IntensityCalibrationTool</text><text class="a" y="333"><tspan x="774">Manufacturer</tspan><tspan x="774" dy="14.14">Model</tspan><tspan x="774" dy="14.14">SerialNumber</tspan><tspan x="774" dy="14.14">LotNumber</tspan><tspan x="774" dy="14.14">SpecsFile</tspan><tspan x="774" dy="14.14">___</tspan><tspan x="774" dy="14.14">ID</tspan><tspan x="774" dy="14.14">Name</tspan><tspan x="774" dy="14.14">Type</tspan><tspan x="774" dy="14.14">AnnotationRef</tspan></text></g>
<g id="SampleHolder" class="n"><rect class="bd" x="768" y="505" width="226" height="275" fill="url(#gRosy)"/><rect class="hb" x="768" y="505" width="226" height="33"/><text class="t" x="881" y="528">SampleHolder</text><text class="a" y="555"><tspan x="773">Manufacturer</tspan><tspan x="773" dy="14.14">Model</tspan><tspan x="773" dy="14.14">SerialNumber</tspan><tspan x="773" dy="14.14">LotNumber</tspan><tspan x="773" dy="14.14">SpecsFile</tspan><tspan x="773" dy="14.14">___</tspan><tspan x="773" dy="14.14">ID</tspan><tspan x="773" dy="14.14">Name</tspan><tspan x="773" dy="14.14">MovementAxes</tspan><tspan x="773" dy="14.14">XTravelRange</tspan><tspan x="773" dy="14.14">YTravelRange</tspan><tspan x="773" dy="14.14">ZTravelRange</tspan><tspan x="773" dy="14.14">MaxVelocity</tspan><tspan x="773" dy="14.14">Type</tspan><tspan x="773" dy="14.14">RotationAngle</tspan><tspan x="773" dy="14.14">AnnotationRef</tspan></text></g>
<g id="Focusing-APE" class="n"><rect class="bd ap" x="764" y="803" width="230" height="262" fill="url(#gRosy)"/><rect class="hr ap" x="764" y="803" width="230" height="34"/><text class="t" x="879" y="826">Focusing-APE</text><text class="a" y="853"><tspan x="769">Manufacturer</tspan><tspan x="769" dy="14.14">Model</tspan><tspan x="769" dy="14.14">SerialNumber</tspan><tspan x="769" dy="14.14">LotNumber</tspan><tspan x="769" dy="14.14">SpecsFile</tspan><tspan x="769" dy="14.14">___</tspan><tspan x="769" dy="14.14">ID</tspan><tspan x="769" dy="14.14">Name</tspan><tspan x="769" dy="14.14">ZTravelRange</tspan><tspan x="769" dy="14.14">Resolution</tspan><tspan x="769" dy="14.14">PositionLinearityError</tspan><tspan x="769" dy="14.14">Repetability</tspan><tspan x="769" dy="14.14">SettlingTime</tspan><tspan x="769" dy="14.14">MaxVelocity</tspan><tspan x="769" dy="14.14">AnnotationRef</tspan></text></g>
<g id="AutoFocus" class="n"><rect class="bd" x="768" y="1095" width="226" height="197" fill="url(#gPink)"/><rect class="hr" x="768" y="1095" width="226" height="33"/><text class="t" x="881" y="1118">AutoFocus</text><text class="a" y="1145"><tspan x="773">Manufacturer</tspan><tspan x="773" dy="14.14">Model</tspan><tspan x="773" dy="14.14">SerialNumber</tspan><tspan x="773" dy="14.14">LotNumber</tspan><tspan x="773" dy="14.14">SpecsFile</tspan><tspan x="773" dy="14.14">___</tspan><tspan x="773" dy="14.14">ID</tspan><tspan x="773" dy="14.14">Name</tspan><tspan x="773" dy="14.14">Type</tspan><tspan x="773" dy="14.14">AnnotationRef</tspan></text></g>
<g id="Lens-APE" class="n"><rect class="bd" x="770" y="1404" width="224" height="380" fill="url(#gYellow)"/><rect class="hr" x="770" y="1404" width="224" height="33"/><text class="t" x="882" y="1427">Lens-APE</text><text class="a" y="1454"><tspan x="775">Manufacturer</tspan><tspan x="775" dy="14.14">Model</tspan><tspan x="775" dy="14.14">SerialNumber</tspan><tspan x="775" dy="14.14">LotNumber</tspan><tspan x="775" dy="14.14">SpecsFile</tspan><tspan x="775" dy="14.14">___</tspan><tspan x="775" dy="14.14">ID</tspan><tspan x="775" dy="14.14">Name</tspan><tspan x="775" dy="14.14">Type</tspan><tspan x="775" dy="14.14">Geometry</tspan><tspan x="775" dy="14.14">Construction</tspan><tspan x="775" dy="14.14">Magnification</tspan><tspan x="775" dy="14.14">AttenuationCoefficient</tspan><tspan x="775" dy="14.14">RadiusOfCurvature</tspan><tspan x="775" dy="14.14">FocalDistanceToObject</tspan><tspan x="775" dy="14.14">FocalDistanceToImage</tspan><tspan x="775" dy="14.14">FocalLenght</tspan><tspan x="775" dy="14.14">MaterialName</tspan><tspan x="775" dy="14.14">GlassCode</tspan><tspan x="775" dy="14.14">RefractiveIndex</tspan><tspan x="775" dy="14.14">AbbeNumber</tspan><tspan x="775" dy="14.14">Density</tspan><tspan x="775" dy="14.14">Diameter</tspan><tspan x="775" dy="14.14">AnnotationRef</tspan></text></g>
<g id="Prism" class="n"><rect class="bd" x="770" y="1792" width="224" height="338" fill="url(#gPrism)"/><rect class="hr" x="770" y="1792" width="224" height="34"/><text class="t" x="882" y="1815">Prism</text><text class="a" y="1843"><tspan x="775">Manufacturer</tspan><tspan x="775" dy="14.14">Model</tspan><tspan x="775" dy="14.14">SerialNumber</tspan><tspan x="775" dy="14.14">LotNumber</tspan><tspan x="775" dy="14.14">SpecsFile</tspan><tspan x="775" dy="14.14">___</tspan><tspan x="775" dy="14.14">ID</tspan><tspan x="775" dy="14.14">Name</tspan><tspan x="775" dy="14.14">Type</tspan><tspan x="775" dy="14.14">Geometry</tspan><tspan x="775" dy="14.14">Reflectance</tspan><tspan x="775" dy="14.14">PrismAngle</tspan><tspan x="775" dy="14.14">AngleOfIncidence</tspan><tspan x="775" dy="14.14">DeviationAngle</tspan><tspan x="775" dy="14.14">MaterialName</tspan><tspan x="775" dy="14.14">GlassCode</tspan><tspan x="775" dy="14.14">RefractiveIndex</tspan><tspan x="775" dy="14.14">AbbeNumber</tspan><tspan x="775" dy="14.14">Density</tspan><tspan x="775" dy="14.14">WavelengthRange</tspan><tspan x="775" dy="14.14">AnnotationRef</tspan></text></g>
<g id="PolarizationOptics" class="n"><rect class="bd" x="770" y="2140" width="224" height="273" fill="url(#gPol)"/><rect class="hr" x="770" y="2140" width="224" height="34"/><text class="t" x="882" y="2163">PolarizationOptics</text><text class="a" y="2191"><tspan x="775">Manufacturer</tspan><tspan x="775" dy="14.14">Model</tspan><tspan x="775" dy="14.14">SerialNumber</tspan><tspan x="775" dy="14.14">LotNumber</tspan><tspan x="775" dy="14.14">SpecsFile</tspan><tspan x="775" dy="14.14">___</tspan><tspan x="775" dy="14.14">ID</tspan><tspan x="775" dy="14.14">Name</tspan><tspan x="775" dy="14.14">Function</tspan><tspan x="775" dy="14.14">Construction</tspan><tspan x="775" dy="14.14">Fabrication</tspan><tspan x="775" dy="14.14">Retardation</tspan><tspan x="775" dy="14.14">MaterialName</tspan><tspan x="775" dy="14.14">GlassCode</tspan><tspan x="775" dy="14.14">WavelengthRange</tspan><tspan x="775" dy="14.14">AnnotationRef</tspan></text></g>
<g id="WavelengthRange-prism" class="n"><rect class="bd" x="506" y="1911" width="200" height="101" fill="url(#gWR)"/><rect class="hr" x="506" y="1911" width="200" height="33"/><text class="t" x="606" y="1934">WavelengthRange</text><text class="a" y="1961"><tspan x="511">CutIn</tspan><tspan x="511" dy="14.14">CutOut</tspan><tspan x="511" dy="14.14">WavelenghtProfileFile</tspan></text></g>
<g id="WavelengthRange-pol" class="n"><rect class="bd" x="508" y="2226" width="200" height="101" fill="url(#gWR)"/><rect class="hr" x="508" y="2226" width="200" height="33"/><text class="t" x="608" y="2249">WavelengthRange</text><text class="a" y="2276"><tspan x="513">CutIn</tspan><tspan x="513" dy="14.14">CutOut</tspan><tspan x="513" dy="14.14">WavelenghtProfileFile</tspan></text></g>
<g id="Stage-APE" class="n"><rect class="bd ap" x="488" y="829" width="203" height="94" fill="url(#gRosy)"/><rect class="hr ap" x="488" y="829" width="203" height="34"/><text class="t" x="589.5" y="852">Stage-APE</text><text class="a" y="880"><tspan x="493">MovementAxes</tspan><tspan x="493" dy="14.14">XTravelRange</tspan><tspan x="493" dy="14.14">YTravelRange</tspan></text></g>
<g id="ObjectiveTurret" class="n"><rect class="bd" x="490" y="930" width="199" height="61" fill="url(#gRosy)"/><rect class="hr" x="490" y="930" width="199" height="33"/><text class="t" x="589.5" y="953">ObjectiveTurret</text></g>
<g id="PiezoElectricObjective" class="n"><rect class="bd" x="490" y="998" width="199" height="60" fill="url(#gRosy)"/><rect class="hr" x="490" y="998" width="199" height="33"/><text class="t" x="589.5" y="1021">PiezoElectricObjective</text></g>
<g id="MechanicalStage" class="n"><rect class="bd" x="230" y="866" width="185" height="61" fill="url(#gRosy)"/><rect class="hr" x="230" y="866" width="185" height="33"/><text class="t" x="322.5" y="889">MechanicalStage</text></g>
<g id="PiezoelectricStage" class="n"><rect class="bd" x="230" y="935" width="185" height="59" fill="url(#gRosy)"/><rect class="hr" x="230" y="935" width="185" height="33"/><text class="t" x="322.5" y="958">PiezoelectricStage</text></g>
<g id="AdditionalLens" class="n"><rect class="bd" x="496" y="1515" width="200" height="58" fill="url(#gYelL)"/><rect class="hr" x="496" y="1515" width="200" height="33"/><text class="t" x="596" y="1538">AdditionalLens</text><text class="a" x="501" y="1565">ID (FilterID)</text></g>
<g id="CouplingLens" class="n"><rect class="bd" x="496" y="1581" width="200" height="59" fill="url(#gYelL)"/><rect class="hr" x="496" y="1581" width="200" height="33"/><text class="t" x="596" y="1604">CouplingLens</text><text class="a" x="501" y="1631">ID (FilterID)</text></g>
<g id="RelayLens" class="n"><rect class="bd" x="496" y="1647" width="200" height="57" fill="url(#gYelL)"/><rect class="hr" x="496" y="1647" width="200" height="33"/><text class="t" x="596" y="1670">RelayLens</text><text class="a" x="501" y="1697">ID (FilterID)</text></g>
<g id="Laser" class="n"><rect class="bd" x="1423" y="155" width="215" height="157" fill="url(#gTeal)"/><rect class="hb" x="1423" y="155" width="215" height="33"/><text class="t" x="1530.5" y="178">Laser</text><text class="a" y="205"><tspan x="1428">Type</tspan><tspan x="1428" dy="14.14">LaserMedium</tspan><tspan x="1428" dy="14.14">Wavelength</tspan><tspan x="1428" dy="14.14">FrequencyMultiplication</tspan><tspan x="1428" dy="14.14">Tuneable</tspan><tspan x="1428" dy="14.14">Pulse</tspan><tspan x="1428" dy="14.14">PockelCell</tspan><tspan x="1428" dy="14.14">RepetitionRate</tspan></text></g>
<g id="Filament" class="n"><rect class="bd" x="1423" y="318" width="215" height="75" fill="url(#gCyan)"/><rect class="hb" x="1423" y="318" width="215" height="33"/><text class="t" x="1530.5" y="341">Filament</text><text class="a" x="1428" y="368">Type</text></g>
<g id="Arc" class="n"><rect class="bd" x="1423" y="399" width="215" height="75" fill="url(#gArc)"/><rect class="hb" x="1423" y="399" width="215" height="33"/><text class="t" x="1530.5" y="422">Arc</text><text class="a" x="1428" y="449">Type</text></g>
<g id="LightEmittingDiode" class="n"><rect class="bd" x="1423" y="483" width="215" height="74" fill="url(#gLED)"/><rect class="hr" x="1423" y="483" width="215" height="33"/><text class="t" x="1530.5" y="506">LightEmittingDiode</text><text class="a" x="1428" y="533">Type</text></g>
<g id="GenericExcitationSource" class="n"><rect class="bd" x="1423" y="564" width="215" height="143" fill="url(#gGES)"/><rect class="hb" x="1423" y="564" width="215" height="34"/><text class="t" x="1530.5" y="587">GenericExcitationSource</text><text class="a" y="614"><tspan x="1428">(The GenericExcitationSource</tspan><tspan x="1428" dy="14.14">element is used to represent</tspan><tspan x="1428" dy="14.14">a source as a collection of</tspan><tspan x="1428" dy="14.14">key/value pairs, stored in a</tspan><tspan x="1428" dy="14.14">Map. The other lightsource</tspan><tspan x="1428" dy="14.14">objects should always be used</tspan><tspan x="1428" dy="14.14">in preference to this if possible)</tspan></text></g>
<g id="Pump" class="n"><rect class="bd" x="1739" y="196" width="201" height="75" fill="url(#gW)"/><rect class="hb" x="1739" y="196" width="201" height="34"/><text class="t" x="1839.5" y="219">Pump</text><text class="a" x="1744" y="247">ID (LightSourceID)</text></g>
<g id="LEDModule" class="n"><rect class="bd" x="1740" y="449" width="200" height="145" fill="url(#gWR)"/><rect class="hr" x="1740" y="449" width="200" height="34"/><text class="t" x="1840" y="472">LEDModule</text><text class="a" y="499"><tspan x="1745">PeakWavelenght</tspan><tspan x="1745" dy="14.14">PeakPower</tspan><tspan x="1745" dy="14.14">ProjectionAngle</tspan><tspan x="1745" dy="14.14">CutIn</tspan><tspan x="1745" dy="14.14">CutOut</tspan><tspan x="1745" dy="14.14">WavelenghtProfileFIle</tspan></text></g>
<g id="LightGuide" class="n"><rect class="bd" x="1420" y="802" width="215" height="196" fill="url(#gPurple2)"/><rect class="hr" x="1420" y="802" width="215" height="33"/><text class="t" x="1527.5" y="825">LightGuide</text><text class="a" y="852"><tspan x="1425">Type</tspan><tspan x="1425" dy="14.14">PeakWavelength</tspan><tspan x="1425" dy="14.14">RefractiveIndex</tspan><tspan x="1425" dy="14.14">NumericalAperture</tspan><tspan x="1425" dy="14.14">AcceptanceAngle</tspan><tspan x="1425" dy="14.14">Geometry</tspan><tspan x="1425" dy="14.14">MaterialName</tspan><tspan x="1425" dy="14.14">SingleMode</tspan><tspan x="1425" dy="14.14">WaveguideMode</tspan><tspan x="1425" dy="14.14">Diameter</tspan></text></g>
<g id="Direct" class="n"><rect class="bd" x="1420" y="1003" width="215" height="81" fill="url(#gPinkD)"/><rect class="hr" x="1420" y="1003" width="215" height="34"/><text class="t" x="1527.5" y="1026">Direct</text><text class="a" y="1053"><tspan x="1425">Mount</tspan><tspan x="1425" dy="14.14">Type</tspan></text></g>
<g id="WavelengthRange-lg" class="n"><rect class="bd" x="1730" y="849" width="203" height="100" fill="url(#gWR)"/><rect class="hr" x="1730" y="849" width="203" height="33"/><text class="t" x="1831.5" y="872">WavelengthRange</text><text class="a" y="899"><tspan x="1735">CutIn</tspan><tspan x="1735" dy="14.14">CutOut</tspan><tspan x="1735" dy="14.14">WavelenghtProfileFile</tspan></text></g>
<g id="ExcitationFilterRef" class="n"><rect class="bd" x="1418" y="1246" width="215" height="57" fill="url(#gW)"/><rect class="hr" x="1418" y="1246" width="215" height="33"/><text class="t" x="1525.5" y="1269">ExcitationFilterRef</text><text class="a" x="1423" y="1296">ID (FilterID)</text></g>
<g id="StandardDichroicRef" class="n"><rect class="bd" x="1418" y="1308" width="215" height="58" fill="url(#gW)"/><rect class="hr" x="1418" y="1308" width="215" height="33"/><text class="t" x="1525.5" y="1331">StandardDichroicRef</text><text class="a" x="1423" y="1358">ID (MirrorID)</text></g>
<g id="EmissionFilterRef" class="n"><rect class="bd" x="1418" y="1370" width="215" height="58" fill="url(#gW)"/><rect class="hr" x="1418" y="1370" width="215" height="34"/><text class="t" x="1525.5" y="1393">EmissionFilterRef</text><text class="a" x="1423" y="1420">ID (FilterID)</text></g>
<g id="ExcitationFilter" class="n"><rect class="bd" x="1418" y="1495" width="215" height="49" fill="url(#gLG2)"/><rect class="hr" x="1418" y="1495" width="215" height="32"/><text class="t" x="1525.5" y="1518">ExcitationFilter</text></g>
<g id="EmissionFilter" class="n"><rect class="bd" x="1418" y="1557" width="215" height="49" fill="url(#gLG2)"/><rect class="hr" x="1418" y="1557" width="215" height="32"/><text class="t" x="1525.5" y="1580">EmissionFilter</text></g>
<g id="AdditionalFilter" class="n"><rect class="bd" x="1418" y="1620" width="215" height="49" fill="url(#gLG2)"/><rect class="hr" x="1418" y="1620" width="215" height="32"/><text class="t" x="1525.5" y="1643">AdditionalFilter</text></g>
<g id="TransmittanceRange-filter" class="n"><rect class="bd" x="1733" y="1623" width="200" height="95" fill="url(#gWR)"/><rect class="hr" x="1733" y="1623" width="200" height="34"/><text class="t" x="1833" y="1646">TransmittanceRange</text><text class="a" y="1673"><tspan x="1738">CutIn</tspan><tspan x="1738" dy="14.14">CutOut</tspan><tspan x="1738" dy="14.14">Transmittance</tspan></text></g>
<g id="Reflector" class="n"><rect class="bd" x="1415" y="1734" width="215" height="51" fill="url(#gLG2)"/><rect class="hr" x="1415" y="1734" width="215" height="33"/><text class="t" x="1522.5" y="1757">Reflector</text></g>
<g id="Beamsplitter" class="n"><rect class="bd" x="1415" y="1792" width="215" height="74" fill="url(#gLG2)"/><rect class="hr" x="1415" y="1792" width="215" height="34"/><text class="t" x="1522.5" y="1815">Beamsplitter</text><text class="a" y="1842"><tspan x="1420">Transmittance</tspan><tspan x="1420" dy="14.14">TranmissionAngle</tspan></text></g>
<g id="Dichroic-APE" class="n"><rect class="bd ap" x="1415" y="1872" width="216" height="184" fill="url(#gLGray)"/><rect class="hr ap" x="1415" y="1872" width="216" height="35"/><text class="t" x="1523" y="1895">Dichroic-APE</text><text class="a" y="1923"><tspan x="1420">DichroicType</tspan><tspan x="1420" dy="14.14">HardSputtered</tspan><tspan x="1420" dy="14.14">AttenuationLevel</tspan><tspan x="1420" dy="14.14">AttenuationMethod</tspan><tspan x="1420" dy="14.14">Technology</tspan><tspan x="1420" dy="14.14">Polarization</tspan><tspan x="1420" dy="14.14">FilterWheel</tspan><tspan x="1420" dy="14.14">TransmittanceProfileFile</tspan><tspan x="1420" dy="14.14">ReflectanceProfileFile</tspan></text></g>
<g id="TransmittanceRange-dichroic" class="n"><rect class="bd" x="1731" y="1735" width="205" height="99" fill="url(#gWR)"/><rect class="hr" x="1731" y="1735" width="205" height="33"/><text class="t" x="1833.5" y="1758">TransmittanceRange</text><text class="a" y="1785"><tspan x="1736">CutIn</tspan><tspan x="1736" dy="14.14">CutOut</tspan><tspan x="1736" dy="14.14">Transmittance</tspan></text></g>
<g id="ReflectanceRange" class="n"><rect class="bd" x="1731" y="1843" width="205" height="99" fill="url(#gWR)"/><rect class="hr" x="1731" y="1843" width="205" height="33"/><text class="t" x="1833.5" y="1866">ReflectanceRange</text><text class="a" y="1893"><tspan x="1736">CutIn</tspan><tspan x="1736" dy="14.14">CutOut</tspan></text></g>
<g id="StandardDichroic" class="n"><rect class="bd" x="1736" y="2009" width="190" height="50" fill="url(#gLG2)"/><rect class="hr" x="1736" y="2009" width="190" height="33"/><text class="t" x="1831" y="2032">StandardDichroic</text></g>
<g id="AdditionalDichroic" class="n"><rect class="bd" x="1736" y="2067" width="190" height="50" fill="url(#gLG2)"/><rect class="hr" x="1736" y="2067" width="190" height="33"/><text class="t" x="1831" y="2090">AdditionalDichroic</text></g>
<g id="PhotoMultiplier" class="n"><rect class="bd" x="1412" y="2113" width="215" height="76" fill="url(#gPM)"/><rect class="hr" x="1412" y="2113" width="215" height="33"/><text class="t" x="1519.5" y="2136">PhotoMultiplier</text><text class="a" y="2163"><tspan x="1417">Type (PMT, Photodiode, APD)</tspan><tspan x="1417" dy="14.14">RadiantSensitivity</tspan></text></g>
<g id="Camera-APE" class="n"><rect class="bd ap" x="1412" y="2194" width="215" height="214" fill="url(#gCam)"/><rect class="hr ap" x="1412" y="2194" width="215" height="33"/><text class="t" x="1519.5" y="2217">Camera-APE</text><text class="a" y="2244"><tspan x="1417">Illumination</tspan><tspan x="1417" dy="14.14">ArrayWidth</tspan><tspan x="1417" dy="14.14">ArrayHeight</tspan><tspan x="1417" dy="14.14">PixelWidth</tspan><tspan x="1417" dy="14.14">PixelHeight</tspan><tspan x="1417" dy="14.14">ImageWidth</tspan><tspan x="1417" dy="14.14">ImageHeight</tspan><tspan x="1417" dy="14.14">PixelWellCapacity</tspan><tspan x="1417" dy="14.14">RegisterWellCapacity</tspan><tspan x="1417" dy="14.14">VerticalClockSpeed</tspan><tspan x="1417" dy="14.14">MaximumFrameRate</tspan><tspan x="1417" dy="14.14">MaximumReadoutRate</tspan></text></g>
<g id="GenericDetector" class="n"><rect class="bd" x="1412" y="2414" width="215" height="152" fill="url(#gGD)"/><rect class="hr" x="1412" y="2414" width="215" height="33"/><text class="t" x="1519.5" y="2437">GenericDetector</text><text class="a" y="2463"><tspan x="1417">(The GenericDetector</tspan><tspan x="1417" dy="14.14">element is used to represent</tspan><tspan x="1417" dy="14.14">a source as a collection of</tspan><tspan x="1417" dy="14.14">key/value pairs, stored in a</tspan><tspan x="1417" dy="14.14">Map. The other lightsource</tspan><tspan x="1417" dy="14.14">objects should always be used</tspan><tspan x="1417" dy="14.14">in preference to this if possible.)</tspan></text></g>
<g id="CCD" class="n"><rect class="bd" x="1736" y="2206" width="190" height="74" fill="url(#gCCD)"/><rect class="hr" x="1736" y="2206" width="190" height="33"/><text class="t" x="1831" y="2229">CCD</text><text class="a" y="2256"><tspan x="1741">Type (Conventional, EMCCD,</tspan><tspan x="1741" dy="14.14">Interline)</tspan></text></g>
<g id="IntensifiedCCD" class="n"><rect class="bd" x="1736" y="2287" width="190" height="73" fill="url(#gCCD)"/><rect class="hr" x="1736" y="2287" width="190" height="33"/><text class="t" x="1831" y="2310">IntensifiedCCD</text><text class="a" x="1741" y="2337">Type (Conventional, EBCCD)</text></g>
<g id="AnalogVideo" class="n"><rect class="bd" x="1736" y="2368" width="190" height="74" fill="url(#gCCD)"/><rect class="hr" x="1736" y="2368" width="190" height="33"/><text class="t" x="1831" y="2391">AnalogVideo</text></g>
<g id="CMOS" class="n"><rect class="bd" x="1736" y="2449" width="190" height="74" fill="url(#gCCD)"/><rect class="hr" x="1736" y="2449" width="190" height="33"/><text class="t" x="1831" y="2472">CMOS</text><text class="a" y="2499"><tspan x="1741">Type (Conventional, Scientific)</tspan><tspan x="1741" dy="14.14">ReadOutMode</tspan></text></g>
<g id="ImagingEnvironment" class="n"><rect class="bd" x="2665" y="400" width="235" height="105" fill="url(#gPeri)"/><rect class="hb" x="2665" y="400" width="235" height="34"/><text class="t" x="2782.5" y="423">ImagingEnvironment</text><text class="a" y="451"><tspan x="2670">Temperature</tspan><tspan x="2670" dy="14.14">AirPressure</tspan><tspan x="2670" dy="14.14">Humidity</tspan><tspan x="2670" dy="14.14">CO2Percent</tspan></text></g>
<g id="MicroscopeSettings" class="n"><rect class="bd" x="2665" y="510" width="235" height="115" fill="url(#gMS)"/><rect class="hr" x="2665" y="510" width="235" height="34"/><text class="t" x="2782.5" y="533">MicroscopeSettings</text><text class="a" y="561"><tspan x="2670">ID (MicroscopeID)</tspan><tspan x="2670" dy="14.14">FieldOfView</tspan><tspan x="2670" dy="14.14">TotalEffectiveMagnification</tspan><tspan x="2670" dy="14.14">OptovarRef</tspan><tspan x="2670" dy="14.14">ObjectiveRef</tspan></text></g>
<g id="TIRFSettings" class="n"><rect class="bd" x="2665" y="632" width="235" height="131" fill="url(#gTirf)"/><rect class="hr" x="2665" y="632" width="235" height="34"/><text class="t" x="2782.5" y="655">TIRFSettings</text><text class="a" y="683"><tspan x="2670">ID</tspan><tspan x="2670" dy="14.14">ThroughLens</tspan><tspan x="2670" dy="14.14">TIRFAngle</tspan><tspan x="2670" dy="14.14">Geometry</tspan><tspan x="2670" dy="14.14">AnnotationRef</tspan></text></g>
<g id="ObjectiveSettings" class="n"><rect class="bd" x="2665" y="769" width="235" height="143" fill="url(#gCream)"/><rect class="hr" x="2665" y="769" width="235" height="34"/><text class="t" x="2782.5" y="792">ObjectiveSettings</text><text class="a" y="820"><tspan x="2670">ID (ObjectiveID</tspan><tspan x="2670" dy="14.14">CorrectionCollar</tspan><tspan x="2670" dy="14.14">ImmersiumMedium</tspan><tspan x="2670" dy="14.14">ImmersionRefractiveIndex</tspan><tspan x="2670" dy="14.14">MeasuredRefractiveIndex</tspan><tspan x="2670" dy="14.14">Temperature</tspan></text></g>
<g id="Description-TIRF" class="n"><rect class="bd" x="3008" y="656" width="208" height="88" fill="url(#gDesc)"/><rect class="hb" x="3008" y="656" width="208" height="34"/><text class="t" x="3112" y="679">Description</text><text class="s" y="707"><tspan x="3012">A description for the TIRFsettings</tspan><tspan x="3012" dy="14">[plain-text multi-line string]</tspan></text></g>
<g id="Description-Microbeam" class="n"><rect class="bd" x="2338" y="840" width="214" height="87" fill="url(#gDesc)"/><rect class="hb" x="2338" y="840" width="214" height="34"/><text class="t" x="2445" y="863">Description</text><text class="s" y="891"><tspan x="2342">A description for the Microbeam</tspan><tspan x="2342" dy="14">Manipulation</tspan><tspan x="2342" dy="14"> [plain-text multi-line string]</tspan></text></g>
<g id="LightSourceSettings" class="n"><rect class="bd" x="2338" y="933" width="214" height="130" fill="url(#gTeal)"/><rect class="hr" x="2338" y="933" width="214" height="33"/><text class="t" x="2445" y="956">LightSourceSettings</text><text class="a" y="983"><tspan x="2343">ID (LightSourceID)</tspan><tspan x="2343" dy="14.14">Attenuation</tspan><tspan x="2343" dy="14.14">Wavelenght</tspan><tspan x="2343" dy="14.14">WavelengthUnit</tspan><tspan x="2343" dy="14.14">OutputPower</tspan><tspan x="2343" dy="14.14">PowerAtSample</tspan></text></g>
<g id="MicrobeamManipulation" class="n"><rect class="bd" x="2032" y="951" width="214" height="114" fill="url(#gTealM)"/><rect class="hb" x="2032" y="951" width="214" height="33"/><text class="t" x="2139" y="974">MicrobeamManipulation</text><text class="a" y="1002"><tspan x="2037">ID</tspan><tspan x="2037" dy="14.14">Type</tspan><tspan x="2037" dy="14.14">ExperimenterRef</tspan><tspan x="2037" dy="14.14">ROIRef</tspan></text></g>
<g id="Description-Experiment" class="n"><rect class="bd" x="2030" y="1106" width="215" height="75" fill="url(#gDesc)"/><rect class="hb" x="2030" y="1106" width="215" height="33"/><text class="t" x="2137.5" y="1129">Description</text><text class="s" y="1155"><tspan x="2034">A description for the experiment</tspan><tspan x="2034" dy="14"> [plain-text multi-line string]</tspan></text></g>
<g id="Experiment" class="n"><rect class="bd" x="2028" y="1221" width="215" height="115" fill="url(#gTealD)"/><rect class="hr" x="2028" y="1221" width="215" height="33"/><text class="t" x="2135.5" y="1244">Experiment</text><text class="a" y="1271"><tspan x="2033">ID</tspan><tspan x="2033" dy="14.14">Name</tspan><tspan x="2033" dy="14.14">Type</tspan><tspan x="2033" dy="14.14">LabellingMethod</tspan><tspan x="2033" dy="14.14">ExperimenterRef</tspan></text></g>
<g id="Sample" class="n"><rect class="bd" x="2028" y="1375" width="215" height="130" fill="url(#gTealM)"/><rect class="hr" x="2028" y="1375" width="215" height="34"/><text class="t" x="2135.5" y="1398">Sample</text><text class="a" y="1426"><tspan x="2033">ID</tspan><tspan x="2033" dy="14.14">Name</tspan><tspan x="2033" dy="14.14">MountingMedium</tspan><tspan x="2033" dy="14.14">MountingMediumRefractiveIndex</tspan><tspan x="2033" dy="14.14">Sample/Description</tspan><tspan x="2033" dy="14.14">AnnotationRef</tspan></text></g>
<g id="Image" class="n"><rect class="bd tk" x="2336" y="1083" width="217" height="416" fill="url(#gImg)"/><rect class="hr tk" x="2336" y="1083" width="217" height="40"/><text class="tb" style="font-size:22px" x="2444.5" y="1111">Image</text><text class="a" y="1140"><tspan x="2341">ID</tspan><tspan x="2341" dy="14.14">Name</tspan><tspan x="2341" dy="14.14">AcquisitionDate</tspan><tspan x="2341" dy="14.14">SizeX</tspan><tspan x="2341" dy="14.14">SizeY</tspan><tspan x="2341" dy="14.14">SizeZ</tspan><tspan x="2341" dy="14.14">SizeC</tspan><tspan x="2341" dy="14.14">SizeT</tspan><tspan x="2341" dy="14.14">PhysicalSizeX</tspan><tspan x="2341" dy="14.14">PhysicalSizeY</tspan><tspan x="2341" dy="14.14">PhysicalSizeZ</tspan><tspan x="2341" dy="14.14">TimeIncrement</tspan><tspan x="2341" dy="14.14">DimensionOrder</tspan><tspan x="2341" dy="14.14">ChannelOrder</tspan><tspan x="2341" dy="14.14">PixelType</tspan><tspan x="2341" dy="14.14">SignificantBit</tspan><tspan x="2341" dy="14.14">Interleaved</tspan><tspan x="2341" dy="14.14">BigEndian</tspan><tspan x="2341" dy="14.14">------</tspan><tspan x="2341" dy="14.14">Image/Description</tspan><tspan x="2341" dy="14.14">InstrumentRef</tspan><tspan x="2341" dy="14.14">ExperimenterRef</tspan><tspan x="2341" dy="14.14">ExperimentGroupRef</tspan><tspan x="2341" dy="14.14">ROIRef</tspan><tspan x="2341" dy="14.14">MicroBeamManipulationRef</tspan><tspan x="2341" dy="14.14">AnnotationRef</tspan></text></g>
<g id="TiffData" class="n"><rect class="bd" x="2694" y="944" width="208" height="126" fill="url(#gCyanB)"/><rect class="hb" x="2694" y="944" width="208" height="33"/><text class="t" x="2798" y="967">TiffData</text><text class="a" y="994"><tspan x="2699">IFD</tspan><tspan x="2699" dy="14.14">FirstZ</tspan><tspan x="2699" dy="14.14">FirstT</tspan><tspan x="2699" dy="14.14">FirstC</tspan><tspan x="2699" dy="14.14">PlaneCount</tspan><tspan x="2699" dy="14.14">UUID</tspan></text></g>
<g id="MetaDataOnly" class="n"><rect class="bd" x="2694" y="1081" width="208" height="50" fill="url(#gCyanB)"/><rect class="hb" x="2694" y="1081" width="208" height="34"/><text class="t" x="2798" y="1104">MetaDataOnly</text></g>
<g id="BinData" class="n"><rect class="bd" x="2694" y="1141" width="208" height="84" fill="url(#gCyanB)"/><rect class="hb" x="2694" y="1141" width="208" height="34"/><text class="t" x="2798" y="1164">BinData</text><text class="a" y="1192"><tspan x="2699">Compression</tspan><tspan x="2699" dy="14.14">BigEndian</tspan><tspan x="2699" dy="14.14">Lenght</tspan></text></g>
<g id="Plane-1" class="n"><rect class="bd" x="2679" y="1282" width="155" height="179" fill="url(#gPlane)"/><rect class="hr" x="2679" y="1282" width="155" height="32"/><text class="t" x="2756.5" y="1305">Plane</text><text class="a" y="1332"><tspan x="2683">The</tspan><tspan x="2683" dy="14.14">The</tspan><tspan x="2683" dy="14.14">The</tspan><tspan x="2683" dy="14.14">Del</tspan><tspan x="2683" dy="14.14">Exp</tspan><tspan x="2683" dy="14.14">Has</tspan><tspan x="2683" dy="14.14">Ann</tspan></text></g>
<g id="Plane-2" class="n"><rect class="bd" x="2705" y="1307" width="155" height="179" fill="url(#gPlane)"/><rect class="hr" x="2705" y="1307" width="155" height="32"/><text class="t" x="2782.5" y="1330">Plane</text><text class="a" y="1357"><tspan x="2709">The</tspan><tspan x="2709" dy="14.14">The</tspan><tspan x="2709" dy="14.14">The</tspan><tspan x="2709" dy="14.14">Del</tspan><tspan x="2709" dy="14.14">Exp</tspan><tspan x="2709" dy="14.14">Has</tspan><tspan x="2709" dy="14.14">Ann</tspan></text></g>
<g id="Plane-3" class="n"><rect class="bd" x="2729" y="1332" width="158" height="180" fill="url(#gPlane)"/><rect class="hr" x="2729" y="1332" width="158" height="33"/><text class="t" x="2808" y="1355">Plane</text><text class="a" y="1383"><tspan x="2733">TheZ</tspan><tspan x="2733" dy="14.14">TheT</tspan><tspan x="2733" dy="14.14">TheC</tspan><tspan x="2733" dy="14.14">Timestamp</tspan><tspan x="2733" dy="14.14">ExposureTime</tspan><tspan x="2733" dy="14.14">HashSHA1</tspan><tspan x="2733" dy="14.14">AnnotationRef</tspan></text></g>
<g id="Channel-1" class="n"><rect class="bd" x="2679" y="1597" width="155" height="230" fill="url(#gPlane)"/><rect class="hb" x="2679" y="1597" width="155" height="31"/><text class="t" x="2756.5" y="1619">Channel</text><text class="a" y="1647"><tspan x="2683">ID</tspan><tspan x="2683" dy="14.14">Nan</tspan><tspan x="2683" dy="14.14">Sam</tspan><tspan x="2683" dy="14.14">Illu</tspan><tspan x="2683" dy="14.14">Pinh</tspan><tspan x="2683" dy="14.14">Acq</tspan><tspan x="2683" dy="14.14">Con</tspan><tspan x="2683" dy="14.14">Exc</tspan><tspan x="2683" dy="14.14">Emi</tspan><tspan x="2683" dy="14.14">Fluo</tspan><tspan x="2683" dy="14.14">NDI</tspan><tspan x="2683" dy="14.14">Poc</tspan><tspan x="2683" dy="14.14">Col</tspan></text></g>
<g id="Channel-2" class="n"><rect class="bd" x="2705" y="1628" width="155" height="230" fill="url(#gPlane)"/><rect class="hb" x="2705" y="1628" width="155" height="31"/><text class="t" x="2782.5" y="1650">Channel</text><text class="a" y="1678"><tspan x="2709">ID</tspan><tspan x="2709" dy="14.14">Nar</tspan><tspan x="2709" dy="14.14">San</tspan><tspan x="2709" dy="14.14">Illu</tspan><tspan x="2709" dy="14.14">Pin</tspan><tspan x="2709" dy="14.14">Acq</tspan><tspan x="2709" dy="14.14">Cor</tspan><tspan x="2709" dy="14.14">Exc</tspan><tspan x="2709" dy="14.14">Emi</tspan><tspan x="2709" dy="14.14">Flu</tspan><tspan x="2709" dy="14.14">NDI</tspan><tspan x="2709" dy="14.14">Poc</tspan><tspan x="2709" dy="14.14">Col</tspan></text></g>
<g id="Channel-3" class="n"><rect class="bd" x="2729" y="1659" width="166" height="229" fill="url(#gPlane)"/><rect class="hb" x="2729" y="1659" width="166" height="33"/><text class="t" x="2812" y="1681">Channel</text><text class="a" y="1708"><tspan x="2733">ID</tspan><tspan x="2733" dy="14.14">Name</tspan><tspan x="2733" dy="14.14">SamplesPerPixel</tspan><tspan x="2733" dy="14.14">IlluminationType</tspan><tspan x="2733" dy="14.14">PinholeSize</tspan><tspan x="2733" dy="14.14">AcquistionMode</tspan><tspan x="2733" dy="14.14">ContrastMethod</tspan><tspan x="2733" dy="14.14">ExcitationWavelenght</tspan><tspan x="2733" dy="14.14">EmissionWavelength</tspan><tspan x="2733" dy="14.14">Fluorophore</tspan><tspan x="2733" dy="14.14">NDFilter</tspan><tspan x="2733" dy="14.14">PockelCellSetting</tspan><tspan x="2733" dy="14.14">Color</tspan></text></g>
<g id="MechanicalCalibration" class="n"><rect class="bd" x="3009" y="1008" width="208" height="183" fill="url(#gMag)"/><rect class="hr" x="3009" y="1008" width="208" height="33"/><text class="t" x="3113" y="1031">MechanicalCalibration</text><text class="a" y="1058"><tspan x="3014">ID</tspan><tspan x="3014" dy="14.14">Date</tspan><tspan x="3014" dy="14.14">MeasuredLateralDrift</tspan><tspan x="3014" dy="14.14">MeasuredFocalDrift</tspan><tspan x="3014" dy="14.14">MeasuredRepeatability</tspan><tspan x="3014" dy="14.14">MeasuredSettlingTime</tspan><tspan x="3014" dy="14.14">FocusingRef</tspan><tspan x="3014" dy="14.14">AutoFocusRef</tspan><tspan x="3014" dy="14.14">SampleHolderRef</tspan><tspan x="3014" dy="14.14">AnnotationRef</tspan></text></g>
<g id="SamplePosition" class="n"><rect class="bd" x="3009" y="1203" width="208" height="130" fill="url(#gRosy)"/><rect class="hr" x="3009" y="1203" width="208" height="33"/><text class="t" x="3113" y="1226">SamplePosition</text><text class="a" y="1253"><tspan x="3014">ID</tspan><tspan x="3014" dy="14.14">Name</tspan><tspan x="3014" dy="14.14">SamplePositionX</tspan><tspan x="3014" dy="14.14">SamplePositionY</tspan><tspan x="3014" dy="14.14">SamplePositionZ</tspan><tspan x="3014" dy="14.14">SampleHolderRef</tspan></text></g>
<g id="FocalPosition" class="n"><rect class="bd" x="3009" y="1340" width="208" height="130" fill="url(#gRosy)"/><rect class="hr" x="3009" y="1340" width="208" height="33"/><text class="t" x="3113" y="1363">FocalPosition</text><text class="a" y="1390"><tspan x="3014">ID</tspan><tspan x="3014" dy="14.14">Name</tspan><tspan x="3014" dy="14.14">StagePositionZ</tspan><tspan x="3014" dy="14.14">FocusingRef</tspan><tspan x="3014" dy="14.14">AutoFocusRef</tspan></text></g>
<g id="LightSourceSettings-2" class="n"><rect class="bd" x="3009" y="1492" width="208" height="131" fill="url(#gTeal)"/><rect class="hr" x="3009" y="1492" width="208" height="34"/><text class="t" x="3113" y="1515">LightSourceSettings</text><text class="a" y="1543"><tspan x="3014">ID (LightSourceID)</tspan><tspan x="3014" dy="14.14">Attenuation</tspan><tspan x="3014" dy="14.14">Wavelenght</tspan><tspan x="3014" dy="14.14">OutputPower</tspan></text></g>
<g id="LightPath" class="n"><rect class="bd" x="3009" y="1634" width="208" height="100" fill="url(#gLGray)"/><rect class="hr" x="3009" y="1634" width="208" height="34"/><text class="t" x="3113" y="1657">LightPath</text><text class="a" y="1685"><tspan x="3014">ID</tspan><tspan x="3014" dy="14.14">Name</tspan><tspan x="3014" dy="14.14">AnnotationRef</tspan></text></g>
<g id="LightSourceCouplingRef" class="n"><rect class="bd" x="3311" y="1182" width="210" height="75" fill="url(#gPurple)"/><rect class="hr" x="3311" y="1182" width="210" height="34"/><text class="t" x="3416" y="1205">LightSourceCouplingRef</text><text class="a" x="3316" y="1233">ID (CouplingID)</text></g>
<g id="FilterSetRef" class="n"><rect class="bd" x="3312" y="1265" width="210" height="74" fill="url(#gW)"/><rect class="hb" x="3312" y="1265" width="210" height="33"/><text class="t" x="3417" y="1288">FilterSetRef</text><text class="a" x="3317" y="1315">ID (FilterSetID)</text></g>
<g id="ExcitationFilterRef-2" class="n"><rect class="bd" x="3312" y="1350" width="210" height="75" fill="url(#gW)"/><rect class="hb" x="3312" y="1350" width="210" height="33"/><text class="t" x="3417" y="1373">ExcitationFilterRef</text><text class="a" x="3317" y="1400">ID (FilterID)</text></g>
<g id="StandardDichroicRef-2" class="n"><rect class="bd" x="3312" y="1434" width="210" height="74" fill="url(#gW)"/><rect class="hr" x="3312" y="1434" width="210" height="33"/><text class="t" x="3417" y="1457">StandardDichroicRef</text><text class="a" x="3317" y="1484">ID (MirrorID)</text></g>
<g id="EmissionFilterRef-2" class="n"><rect class="bd" x="3312" y="1516" width="210" height="75" fill="url(#gW)"/><rect class="hb" x="3312" y="1516" width="210" height="33"/><text class="t" x="3417" y="1539">EmissionFilterRef</text><text class="a" x="3317" y="1566">ID (FilterID)</text></g>
<g id="AdditionalOptics" class="n"><rect class="bd" x="3312" y="1598" width="210" height="100" fill="url(#gYel2)"/><rect class="hr" x="3312" y="1598" width="210" height="34"/><text class="t" x="3417" y="1621">AdditionalOptics</text><text class="a" y="1649"><tspan x="3317">ID</tspan><tspan x="3317" dy="14.14">Name</tspan><tspan x="3317" dy="14.14">AnotationRef</tspan></text></g>
<g id="AdditionalLensRef" class="n"><rect class="bd" x="3601" y="1303" width="199" height="75" fill="url(#gYelL)"/><rect class="hr" x="3601" y="1303" width="199" height="34"/><text class="t" x="3700.5" y="1326">AdditionalLensRef</text><text class="a" x="3606" y="1354">ID (LensID)</text></g>
<g id="PrismRef" class="n"><rect class="bd" x="3601" y="1384" width="199" height="75" fill="url(#gPrism)"/><rect class="hr" x="3601" y="1384" width="199" height="34"/><text class="t" x="3700.5" y="1407">PrismRef</text><text class="a" x="3606" y="1435">ID (PrismID)</text></g>
<g id="PolarizationOpticsRef" class="n"><rect class="bd" x="3601" y="1465" width="199" height="74" fill="url(#gPol)"/><rect class="hr" x="3601" y="1465" width="199" height="33"/><text class="t" x="3700.5" y="1488">PolarizationOpticsRef</text><text class="a" x="3606" y="1515">ID (PolarizationOpticsID)</text></g>
<g id="AdditionalFilterRef" class="n"><rect class="bd" x="3601" y="1545" width="199" height="74" fill="url(#gLGray)"/><rect class="hr" x="3601" y="1545" width="199" height="33"/><text class="t" x="3700.5" y="1568">AdditionalFilterRef</text><text class="a" x="3606" y="1595">ID (FilterID)</text></g>
<g id="AdditionalMirrorRef" class="n"><rect class="bd" x="3601" y="1624" width="199" height="75" fill="url(#gLGray)"/><rect class="hr" x="3601" y="1624" width="199" height="34"/><text class="t" x="3700.5" y="1647">AdditionalMirrorRef</text><text class="a" y="1675"><tspan x="3606">ID (MirrorID)</tspan><tspan x="3606" dy="14.14">ActualMountedAngle</tspan></text></g>
<g id="OpticalCalibrationImageRef" class="n"><rect class="bd" x="2031" y="1552" width="214" height="95" fill="url(#gLil)"/><rect class="hr" x="2031" y="1552" width="214" height="54"/><text class="t" x="2138" y="1575">OpticalCalibration</text><text class="t" x="2138" y="1597">ImageRef</text><text class="a" x="2036" y="1624">ID (ImageID)</text></g>
<g id="OpticalCalibrationReportRef" class="n"><rect class="bd" x="2031" y="1651" width="214" height="101" fill="url(#gLil)"/><rect class="hr" x="2031" y="1651" width="214" height="54"/><text class="t" x="2138" y="1675">Optical</text><text class="t" x="2138" y="1697">CalibrationReportRef</text><text class="a" y="1723"><tspan x="2036">ID (FileURI)</tspan><tspan x="2036" dy="14.14">OpticalCalibrationSoftware</tspan></text></g>
<g id="OpticalCalibration" class="n"><rect class="bd" x="2338" y="1552" width="216" height="265" fill="url(#gMag)"/><rect class="hr" x="2338" y="1552" width="216" height="34"/><text class="t" x="2446" y="1575">OpticalCalibration</text><text class="a" y="1603"><tspan x="2343">ID</tspan><tspan x="2343" dy="14.14">Date</tspan><tspan x="2343" dy="14.14">MedianSpotSize_FWHM</tspan><tspan x="2343" dy="14.14">MedianTheoretical_FWHM</tspan><tspan x="2343" dy="14.14">MinSpotSize_FWHM</tspan><tspan x="2343" dy="14.14">MinTheoretical_FWHM</tspan><tspan x="2343" dy="14.14">MaxSpotSize_FWHM</tspan><tspan x="2343" dy="14.14">MaxTheoretical_FWHM</tspan><tspan x="2343" dy="14.14">ZSpotSize_FWHM</tspan><tspan x="2343" dy="14.14">ZTheoretical_FWHM</tspan><tspan x="2343" dy="14.14">Planarity</tspan><tspan x="2343" dy="14.14">Asymmetry</tspan><tspan x="2343" dy="14.14">LateralChromaticShift</tspan><tspan x="2343" dy="14.14">AxialChromaticShift</tspan><tspan x="2343" dy="14.14">AnnotationRef</tspan></text></g>
<g id="ColoredBeadsSlide" class="n"><rect class="bd" x="2030" y="1807" width="215" height="115" fill="url(#gPinkM)"/><rect class="hr" x="2030" y="1807" width="215" height="34"/><text class="t" x="2137.5" y="1830">ColoredBeadsSlide</text><text class="a" y="1857"><tspan x="2035">BeadSize</tspan><tspan x="2035" dy="14.14">BeadsConcentration</tspan><tspan x="2035" dy="14.14">BeadVolume</tspan><tspan x="2035" dy="14.14">BeadEmissionWavelenght</tspan><tspan x="2035" dy="14.14">Type</tspan></text></g>
<g id="CalibrationSlide" class="n"><rect class="bd" x="2031" y="1930" width="214" height="73" fill="url(#gPinkM)"/><rect class="hr" x="2031" y="1930" width="214" height="34"/><text class="t" x="2138" y="1953">CalibrationSlide</text><text class="a" y="1980"><tspan x="2036">Type</tspan><tspan x="2036" dy="14.14">CalibratedMeasure</tspan></text></g>
<g id="DNAOrigami" class="n"><rect class="bd" x="2031" y="2009" width="215" height="67" fill="url(#gPinkM)"/><rect class="hr" x="2031" y="2009" width="215" height="33"/><text class="t" x="2138.5" y="2032">DNAOrigami</text><text class="a" x="2036" y="2059">Type</text></g>
<g id="OpticalStandard-APE" class="n"><rect class="bd" x="2338" y="1879" width="214" height="184" fill="url(#gPinkM)"/><rect class="hr" x="2338" y="1879" width="214" height="33"/><text class="t" x="2445" y="1902">OpticalStandard-APE</text><text class="a" y="1929"><tspan x="2343">Manufacturer</tspan><tspan x="2343" dy="14.14">Model</tspan><tspan x="2343" dy="14.14">SerialNumber</tspan><tspan x="2343" dy="14.14">LotNumber</tspan><tspan x="2343" dy="14.14">SpecsFile</tspan><tspan x="2343" dy="14.14">___</tspan><tspan x="2343" dy="14.14">ID</tspan><tspan x="2343" dy="14.14">Name</tspan><tspan x="2343" dy="14.14">AnnotationRef</tspan></text></g>
<g id="FieldCalibration" class="n"><rect class="bd" x="2697" y="1956" width="191" height="109" fill="url(#gMag)"/><rect class="hr" x="2697" y="1956" width="191" height="34"/><text class="t" x="2792.5" y="1979">FieldCalibration</text><text class="a" y="2007"><tspan x="2702">ID</tspan><tspan x="2702" dy="14.14">Date</tspan><tspan x="2702" dy="14.14">AnnotationRef</tspan></text></g>
<g id="ExcitationCalibration" class="n"><rect class="bd" x="2696" y="2113" width="191" height="106" fill="url(#gMag)"/><rect class="hr" x="2696" y="2113" width="191" height="34"/><text class="t" x="2791.5" y="2136">ExcitationCalibration</text><text class="a" y="2163"><tspan x="2700">ObservedExcitationWavelength</tspan><tspan x="2700" dy="14.14">ObservedPowerAtObjective</tspan><tspan x="2700" dy="14.14">ObservedExcitationIrradiance</tspan><tspan x="2700" dy="14.14">ObservedExcitationVariance</tspan></text></g>
<g id="DetectorCalibration" class="n"><rect class="bd" x="2696" y="2237" width="191" height="107" fill="url(#gMag)"/><rect class="hr" x="2696" y="2237" width="191" height="33"/><text class="t" x="2791.5" y="2260">DetectorCalibration</text><text class="a" x="2700" y="2287">Method</text></g>
<g id="IntensityCalibration-APE" class="n"><rect class="bd" x="2695" y="2425" width="192" height="135" fill="url(#gMag)"/><rect class="hr" x="2695" y="2425" width="192" height="55"/><text class="t" x="2791" y="2449">Intensity</text><text class="t" x="2791" y="2471">Calibration-APE</text><text class="a" y="2497"><tspan x="2700">ID</tspan><tspan x="2700" dy="14.14">Date</tspan><tspan x="2700" dy="14.14">Description</tspan><tspan x="2700" dy="14.14">IntensityCalibrationToolRef</tspan><tspan x="2700" dy="14.14">AnnotationRef</tspan></text></g>
<g id="DetectorSettings-APE" class="n"><rect class="bd ap" x="3009" y="1743" width="208" height="110" fill="url(#gDS)"/><rect class="hr ap" x="3009" y="1743" width="208" height="34"/><text class="t" x="3113" y="1766">DetectorSettings-APE</text><text class="a" y="1794"><tspan x="3014">ID (DetectorID)</tspan><tspan x="3014" dy="14.14">EffectiveOffset</tspan><tspan x="3014" dy="14.14">Integration</tspan><tspan x="3014" dy="14.14">CameraFieldOfView</tspan></text></g>
<g id="AnnotationRef-1" class="n"><rect class="bd" x="3009" y="1864" width="207" height="100" fill="url(#gDesc)"/><rect class="hb" x="3009" y="1864" width="207" height="32"/><text class="t" x="3112.5" y="1887">AnnotationRef</text><text class="a" x="3014" y="1914">ID (AnnotationID)</text></g>
<g id="FlatFieldImageRef" class="n"><rect class="bd" x="3008" y="1973" width="207" height="74" fill="url(#gLil)"/><rect class="hr" x="3008" y="1973" width="207" height="33"/><text class="t" x="3111.5" y="1996">FlatFieldImageRef</text><text class="a" x="3013" y="2023">ID (ImageID)</text></g>
<g id="CameraSettings" class="n"><rect class="bd" x="3310" y="1760" width="209" height="144" fill="url(#gCS)"/><rect class="hr" x="3310" y="1760" width="209" height="33"/><text class="t" x="3414.5" y="1783">CameraSettings</text><text class="a" y="1809"><tspan x="3315">Binning</tspan><tspan x="3315" dy="14.14">AnalogToDigitalConverter</tspan><tspan x="3315" dy="14.14">EMGain</tspan><tspan x="3315" dy="14.14">ReadoutRate</tspan><tspan x="3315" dy="14.14">FrameRate</tspan><tspan x="3315" dy="14.14">OperatingTemperature</tspan></text></g>
<g id="PhotoMultiplierSettings" class="n"><rect class="bd" x="3310" y="1917" width="209" height="100" fill="url(#gCS)"/><rect class="hr" x="3310" y="1917" width="209" height="33"/><text class="t" x="3414.5" y="1940">PhotoMultiplierSettings</text><text class="a" y="1967"><tspan x="3315">PMTGain</tspan><tspan x="3315" dy="14.14">PMTVoltage</tspan><tspan x="3315" dy="14.14">EffectiveZoom</tspan></text></g>
<g id="CommentAnnotation" class="n"><rect class="bd" x="3313" y="2053" width="209" height="98" fill="url(#gDesc)"/><rect class="hb" x="3313" y="2053" width="209" height="33"/><text class="t" x="3417.5" y="2076">CommentAnnotation</text><text class="a" y="2103"><tspan x="3318">ID</tspan><tspan x="3318" dy="14.14">Namespace</tspan><tspan x="3318" dy="14.14">Annotator (ExperimenterID)</tspan></text></g>
<g id="Description-Annotation" class="n"><rect class="bd" x="3601" y="1912" width="199" height="75" fill="url(#gDesc)"/><rect class="hb" x="3601" y="1912" width="199" height="33"/><text class="t" x="3700.5" y="1935">Description</text><text class="s" y="1963"><tspan x="3605">A description for the annotation.</tspan><tspan x="3605" dy="14">[plain-text multi-line string]</tspan></text></g>
<g id="AnnotationRef-2" class="n"><rect class="bd" x="3601" y="1991" width="199" height="79" fill="url(#gDesc)"/><rect class="hb" x="3601" y="1991" width="199" height="33"/><text class="t" x="3700.5" y="2014">AnnotationRef</text><text class="a" x="3606" y="2041">ID (AnnotationID)</text></g>
<g id="Value" class="n"><rect class="bd" x="3601" y="2074" width="199" height="78" fill="url(#gDesc)"/><rect class="hb" x="3601" y="2074" width="199" height="33"/><text class="t" x="3700.5" y="2097">Value</text><text class="a" x="3606" y="2124">[string]</text></g>
<g id="CalibrationMap" class="n"><rect class="bd" x="3006" y="2205" width="209" height="111" fill="url(#gLil)"/><rect class="hr" x="3006" y="2205" width="209" height="33"/><text class="t" x="3110.5" y="2228">CalibrationMap</text><text class="a" y="2255"><tspan x="3011">MetricType</tspan><tspan x="3011" dy="14.14">IlluminationIntensity</tspan><tspan x="3011" dy="14.14">NrOfImages</tspan></text></g>
<g id="Row" class="n"><rect class="bd" x="3006" y="2358" width="209" height="71" fill="url(#gLil)"/><rect class="hr" x="3006" y="2358" width="209" height="33"/><text class="t" x="3110.5" y="2381">Row</text><text class="a" x="3011" y="2408">RowNr</text></g>
<g id="Cell" class="n"><rect class="bd" x="3005" y="2471" width="209" height="72" fill="url(#gLil)"/><rect class="hr" x="3005" y="2471" width="209" height="33"/><text class="t" x="3109.5" y="2494">Cell</text><text class="a" y="2521"><tspan x="3010">CellNr</tspan><tspan x="3010" dy="14.14">CellValue</tspan></text></g>
</g>
</svg>
